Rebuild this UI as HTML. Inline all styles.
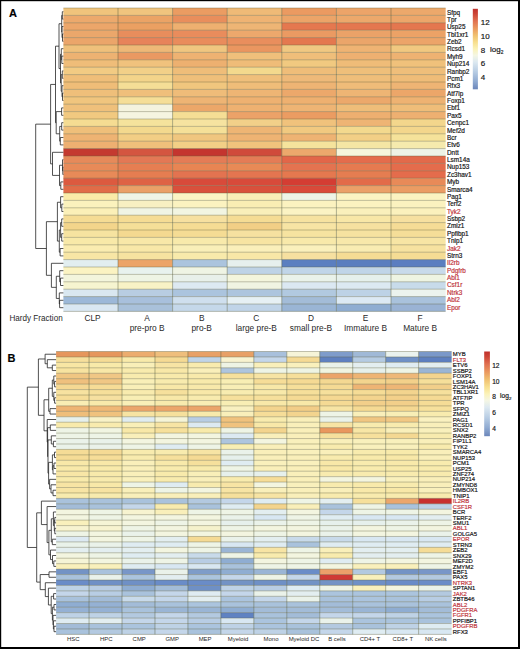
<!DOCTYPE html><html><head><meta charset="utf-8"><style>
html,body{margin:0;padding:0;background:#fff;}
body{width:520px;height:649px;overflow:hidden;position:relative;}
svg{position:absolute;left:0;top:0;}
text{font-family:"Liberation Sans",sans-serif;fill:#151515;stroke:#151515;stroke-width:0.18px;}
.gh{stroke:rgba(95,95,60,0.42);stroke-width:0.9;}
.gv{stroke:rgba(85,90,60,0.5);stroke-width:0.9;}
text.ns{stroke:none;fill:#2a2a2a;}
.d{stroke:#262626;stroke-width:0.8;fill:none;}
</style></head><body>
<svg width="520" height="649" viewBox="0 0 520 649">
<defs>
<linearGradient id="cbA" x1="0" y1="0" x2="0" y2="1">
<stop offset="0" stop-color="#c0302c"/>
<stop offset="0.06" stop-color="#cc4436"/>
<stop offset="0.15" stop-color="#e07050"/>
<stop offset="0.25" stop-color="#eb9c60"/>
<stop offset="0.33" stop-color="#f0c070"/>
<stop offset="0.42" stop-color="#f8e090"/>
<stop offset="0.5" stop-color="#fbf2b8"/>
<stop offset="0.58" stop-color="#f4f6e4"/>
<stop offset="0.66" stop-color="#dde9f1"/>
<stop offset="0.78" stop-color="#b8cde4"/>
<stop offset="0.9" stop-color="#90abd2"/>
<stop offset="1" stop-color="#6b86ba"/>
</linearGradient>
<linearGradient id="cbB" x1="0" y1="0" x2="0" y2="1">
<stop offset="0" stop-color="#c0302c"/>
<stop offset="0.06" stop-color="#cc4436"/>
<stop offset="0.15" stop-color="#e07050"/>
<stop offset="0.25" stop-color="#eb9c60"/>
<stop offset="0.33" stop-color="#f0c070"/>
<stop offset="0.42" stop-color="#f8e090"/>
<stop offset="0.5" stop-color="#fbf2b8"/>
<stop offset="0.58" stop-color="#f4f6e4"/>
<stop offset="0.66" stop-color="#dde9f1"/>
<stop offset="0.78" stop-color="#b8cde4"/>
<stop offset="0.9" stop-color="#90abd2"/>
<stop offset="1" stop-color="#6b86ba"/>
</linearGradient>
</defs>
<rect x="63.4" y="8" width="54.65" height="7.45" fill="#f0c47c"/>
<rect x="118" y="8" width="54.65" height="7.45" fill="#f0c47e"/>
<rect x="172.6" y="8" width="54.65" height="7.45" fill="#eb9c62"/>
<rect x="227.2" y="8" width="54.65" height="7.45" fill="#efba77"/>
<rect x="281.8" y="8" width="54.65" height="7.45" fill="#eb9a61"/>
<rect x="336.4" y="8" width="54.65" height="7.45" fill="#eca469"/>
<rect x="391" y="8" width="54.65" height="7.45" fill="#eca86b"/>
<rect x="63.4" y="15.4" width="54.65" height="7.45" fill="#eca96c"/>
<rect x="118" y="15.4" width="54.65" height="7.45" fill="#eba365"/>
<rect x="172.6" y="15.4" width="54.65" height="7.45" fill="#e98e5c"/>
<rect x="227.2" y="15.4" width="54.65" height="7.45" fill="#efb373"/>
<rect x="281.8" y="15.4" width="54.65" height="7.45" fill="#eca468"/>
<rect x="336.4" y="15.4" width="54.65" height="7.45" fill="#eca86b"/>
<rect x="391" y="15.4" width="54.65" height="7.45" fill="#eca66a"/>
<rect x="63.4" y="22.8" width="54.65" height="7.45" fill="#eca66a"/>
<rect x="118" y="22.8" width="54.65" height="7.45" fill="#eba062"/>
<rect x="172.6" y="22.8" width="54.65" height="7.45" fill="#eeb070"/>
<rect x="227.2" y="22.8" width="54.65" height="7.45" fill="#eeb575"/>
<rect x="281.8" y="22.8" width="54.65" height="7.45" fill="#e5784f"/>
<rect x="336.4" y="22.8" width="54.65" height="7.45" fill="#e4774f"/>
<rect x="391" y="22.8" width="54.65" height="7.45" fill="#e4774f"/>
<rect x="63.4" y="30.2" width="54.65" height="7.45" fill="#eba76b"/>
<rect x="118" y="30.2" width="54.65" height="7.45" fill="#e88d5c"/>
<rect x="172.6" y="30.2" width="54.65" height="7.45" fill="#e98c5c"/>
<rect x="227.2" y="30.2" width="54.65" height="7.45" fill="#eda86c"/>
<rect x="281.8" y="30.2" width="54.65" height="7.45" fill="#eb9a62"/>
<rect x="336.4" y="30.2" width="54.65" height="7.45" fill="#eba268"/>
<rect x="391" y="30.2" width="54.65" height="7.45" fill="#eca266"/>
<rect x="63.4" y="37.6" width="54.65" height="7.45" fill="#eba56a"/>
<rect x="118" y="37.6" width="54.65" height="7.45" fill="#e7835a"/>
<rect x="172.6" y="37.6" width="54.65" height="7.45" fill="#e98c5c"/>
<rect x="227.2" y="37.6" width="54.65" height="7.45" fill="#e98e5d"/>
<rect x="281.8" y="37.6" width="54.65" height="7.45" fill="#e4784f"/>
<rect x="336.4" y="37.6" width="54.65" height="7.45" fill="#eba56a"/>
<rect x="391" y="37.6" width="54.65" height="7.45" fill="#eca469"/>
<rect x="63.4" y="45" width="54.65" height="7.45" fill="#efc07b"/>
<rect x="118" y="45" width="54.65" height="7.45" fill="#eeb877"/>
<rect x="172.6" y="45" width="54.65" height="7.45" fill="#f0c680"/>
<rect x="227.2" y="45" width="54.65" height="7.45" fill="#ea9660"/>
<rect x="281.8" y="45" width="54.65" height="7.45" fill="#f0c882"/>
<rect x="336.4" y="45" width="54.65" height="7.45" fill="#efb373"/>
<rect x="391" y="45" width="54.65" height="7.45" fill="#f1c880"/>
<rect x="63.4" y="52.4" width="54.65" height="7.45" fill="#edb272"/>
<rect x="118" y="52.4" width="54.65" height="7.45" fill="#ea9962"/>
<rect x="172.6" y="52.4" width="54.65" height="7.45" fill="#eeb272"/>
<rect x="227.2" y="52.4" width="54.65" height="7.45" fill="#f0c07b"/>
<rect x="281.8" y="52.4" width="54.65" height="7.45" fill="#efbe7a"/>
<rect x="336.4" y="52.4" width="54.65" height="7.45" fill="#eeb071"/>
<rect x="391" y="52.4" width="54.65" height="7.45" fill="#eeb272"/>
<rect x="63.4" y="59.8" width="54.65" height="7.45" fill="#efbd79"/>
<rect x="118" y="59.8" width="54.65" height="7.45" fill="#f0c27d"/>
<rect x="172.6" y="59.8" width="54.65" height="7.45" fill="#edb070"/>
<rect x="227.2" y="59.8" width="54.65" height="7.45" fill="#efbc78"/>
<rect x="281.8" y="59.8" width="54.65" height="7.45" fill="#f1c980"/>
<rect x="336.4" y="59.8" width="54.65" height="7.45" fill="#efbc78"/>
<rect x="391" y="59.8" width="54.65" height="7.45" fill="#f0c17b"/>
<rect x="63.4" y="67.2" width="54.65" height="7.45" fill="#f2cb83"/>
<rect x="118" y="67.2" width="54.65" height="7.45" fill="#f2d088"/>
<rect x="172.6" y="67.2" width="54.65" height="7.45" fill="#efbd79"/>
<rect x="227.2" y="67.2" width="54.65" height="7.45" fill="#f3d98d"/>
<rect x="281.8" y="67.2" width="54.65" height="7.45" fill="#efbd79"/>
<rect x="336.4" y="67.2" width="54.65" height="7.45" fill="#efbf7a"/>
<rect x="391" y="67.2" width="54.65" height="7.45" fill="#efbe7a"/>
<rect x="63.4" y="74.6" width="54.65" height="7.45" fill="#efbe79"/>
<rect x="118" y="74.6" width="54.65" height="7.45" fill="#f3d48a"/>
<rect x="172.6" y="74.6" width="54.65" height="7.45" fill="#efbf7a"/>
<rect x="227.2" y="74.6" width="54.65" height="7.45" fill="#efbf7b"/>
<rect x="281.8" y="74.6" width="54.65" height="7.45" fill="#eeb979"/>
<rect x="336.4" y="74.6" width="54.65" height="7.45" fill="#efbe7a"/>
<rect x="391" y="74.6" width="54.65" height="7.45" fill="#efbc78"/>
<rect x="63.4" y="82" width="54.65" height="7.45" fill="#efbd78"/>
<rect x="118" y="82" width="54.65" height="7.45" fill="#f5de96"/>
<rect x="172.6" y="82" width="54.65" height="7.45" fill="#f0c67e"/>
<rect x="227.2" y="82" width="54.65" height="7.45" fill="#efbd79"/>
<rect x="281.8" y="82" width="54.65" height="7.45" fill="#eeb474"/>
<rect x="336.4" y="82" width="54.65" height="7.45" fill="#efbc79"/>
<rect x="391" y="82" width="54.65" height="7.45" fill="#eeb474"/>
<rect x="63.4" y="89.4" width="54.65" height="7.45" fill="#efbf7a"/>
<rect x="118" y="89.4" width="54.65" height="7.45" fill="#efbf7b"/>
<rect x="172.6" y="89.4" width="54.65" height="7.45" fill="#efbc79"/>
<rect x="227.2" y="89.4" width="54.65" height="7.45" fill="#eeb574"/>
<rect x="281.8" y="89.4" width="54.65" height="7.45" fill="#eca86b"/>
<rect x="336.4" y="89.4" width="54.65" height="7.45" fill="#eeb574"/>
<rect x="391" y="89.4" width="54.65" height="7.45" fill="#eca669"/>
<rect x="63.4" y="96.8" width="54.65" height="7.45" fill="#f0c57e"/>
<rect x="118" y="96.8" width="54.65" height="7.45" fill="#f5de97"/>
<rect x="172.6" y="96.8" width="54.65" height="7.45" fill="#eeb474"/>
<rect x="227.2" y="96.8" width="54.65" height="7.45" fill="#eeb171"/>
<rect x="281.8" y="96.8" width="54.65" height="7.45" fill="#eeb070"/>
<rect x="336.4" y="96.8" width="54.65" height="7.45" fill="#eca86b"/>
<rect x="391" y="96.8" width="54.65" height="7.45" fill="#eeb272"/>
<rect x="63.4" y="104.2" width="54.65" height="7.45" fill="#efc07b"/>
<rect x="118" y="104.2" width="54.65" height="7.45" fill="#f4f3de"/>
<rect x="172.6" y="104.2" width="54.65" height="7.45" fill="#eca769"/>
<rect x="227.2" y="104.2" width="54.65" height="7.45" fill="#eeb171"/>
<rect x="281.8" y="104.2" width="54.65" height="7.45" fill="#eeb474"/>
<rect x="336.4" y="104.2" width="54.65" height="7.45" fill="#efbd79"/>
<rect x="391" y="104.2" width="54.65" height="7.45" fill="#efbd79"/>
<rect x="63.4" y="111.6" width="54.65" height="7.45" fill="#f1c980"/>
<rect x="118" y="111.6" width="54.65" height="7.45" fill="#f5f4e0"/>
<rect x="172.6" y="111.6" width="54.65" height="7.45" fill="#f5de95"/>
<rect x="227.2" y="111.6" width="54.65" height="7.45" fill="#eca268"/>
<rect x="281.8" y="111.6" width="54.65" height="7.45" fill="#eb9c62"/>
<rect x="336.4" y="111.6" width="54.65" height="7.45" fill="#eeaf70"/>
<rect x="391" y="111.6" width="54.65" height="7.45" fill="#eeb071"/>
<rect x="63.4" y="119" width="54.65" height="7.45" fill="#f5dc92"/>
<rect x="118" y="119" width="54.65" height="7.45" fill="#f5e39c"/>
<rect x="172.6" y="119" width="54.65" height="7.45" fill="#f6e3a0"/>
<rect x="227.2" y="119" width="54.65" height="7.45" fill="#f2d089"/>
<rect x="281.8" y="119" width="54.65" height="7.45" fill="#f0c27c"/>
<rect x="336.4" y="119" width="54.65" height="7.45" fill="#eeb474"/>
<rect x="391" y="119" width="54.65" height="7.45" fill="#f3d68c"/>
<rect x="63.4" y="126.4" width="54.65" height="7.45" fill="#efbf7a"/>
<rect x="118" y="126.4" width="54.65" height="7.45" fill="#f3d98e"/>
<rect x="172.6" y="126.4" width="54.65" height="7.45" fill="#f5e098"/>
<rect x="227.2" y="126.4" width="54.65" height="7.45" fill="#eeb574"/>
<rect x="281.8" y="126.4" width="54.65" height="7.45" fill="#f1c980"/>
<rect x="336.4" y="126.4" width="54.65" height="7.45" fill="#f3d98e"/>
<rect x="391" y="126.4" width="54.65" height="7.45" fill="#f3d68c"/>
<rect x="63.4" y="133.8" width="54.65" height="7.45" fill="#eeb373"/>
<rect x="118" y="133.8" width="54.65" height="7.45" fill="#f2ce85"/>
<rect x="172.6" y="133.8" width="54.65" height="7.45" fill="#f0c67f"/>
<rect x="227.2" y="133.8" width="54.65" height="7.45" fill="#eeb373"/>
<rect x="281.8" y="133.8" width="54.65" height="7.45" fill="#eeb373"/>
<rect x="336.4" y="133.8" width="54.65" height="7.45" fill="#f2cf86"/>
<rect x="391" y="133.8" width="54.65" height="7.45" fill="#f5e29a"/>
<rect x="63.4" y="141.2" width="54.65" height="7.45" fill="#eeb071"/>
<rect x="118" y="141.2" width="54.65" height="7.45" fill="#efc07b"/>
<rect x="172.6" y="141.2" width="54.65" height="7.45" fill="#f2cf86"/>
<rect x="227.2" y="141.2" width="54.65" height="7.45" fill="#f0c37c"/>
<rect x="281.8" y="141.2" width="54.65" height="7.45" fill="#f5e39c"/>
<rect x="336.4" y="141.2" width="54.65" height="7.45" fill="#f5e6a4"/>
<rect x="391" y="141.2" width="54.65" height="7.45" fill="#f5eaad"/>
<rect x="63.4" y="148.6" width="54.65" height="7.45" fill="#c43a30"/>
<rect x="118" y="148.6" width="54.65" height="7.45" fill="#d45540"/>
<rect x="172.6" y="148.6" width="54.65" height="7.45" fill="#c4352f"/>
<rect x="227.2" y="148.6" width="54.65" height="7.45" fill="#d04a3b"/>
<rect x="281.8" y="148.6" width="54.65" height="7.45" fill="#eca86c"/>
<rect x="336.4" y="148.6" width="54.65" height="7.45" fill="#f6f5dc"/>
<rect x="391" y="148.6" width="54.65" height="7.45" fill="#eef3e6"/>
<rect x="63.4" y="156" width="54.65" height="7.45" fill="#e68a5a"/>
<rect x="118" y="156" width="54.65" height="7.45" fill="#e37855"/>
<rect x="172.6" y="156" width="54.65" height="7.45" fill="#e47c56"/>
<rect x="227.2" y="156" width="54.65" height="7.45" fill="#e47c56"/>
<rect x="281.8" y="156" width="54.65" height="7.45" fill="#e26649"/>
<rect x="336.4" y="156" width="54.65" height="7.45" fill="#e46c4c"/>
<rect x="391" y="156" width="54.65" height="7.45" fill="#e26a4a"/>
<rect x="63.4" y="163.4" width="54.65" height="7.45" fill="#e88a58"/>
<rect x="118" y="163.4" width="54.65" height="7.45" fill="#e67e52"/>
<rect x="172.6" y="163.4" width="54.65" height="7.45" fill="#e88553"/>
<rect x="227.2" y="163.4" width="54.65" height="7.45" fill="#e88a56"/>
<rect x="281.8" y="163.4" width="54.65" height="7.45" fill="#e47350"/>
<rect x="336.4" y="163.4" width="54.65" height="7.45" fill="#e67a50"/>
<rect x="391" y="163.4" width="54.65" height="7.45" fill="#e46c4c"/>
<rect x="63.4" y="170.8" width="54.65" height="7.45" fill="#e88a58"/>
<rect x="118" y="170.8" width="54.65" height="7.45" fill="#e57d51"/>
<rect x="172.6" y="170.8" width="54.65" height="7.45" fill="#e37350"/>
<rect x="227.2" y="170.8" width="54.65" height="7.45" fill="#e47550"/>
<rect x="281.8" y="170.8" width="54.65" height="7.45" fill="#e5784f"/>
<rect x="336.4" y="170.8" width="54.65" height="7.45" fill="#e57d51"/>
<rect x="391" y="170.8" width="54.65" height="7.45" fill="#e46c4c"/>
<rect x="63.4" y="178.2" width="54.65" height="7.45" fill="#dc5a3f"/>
<rect x="118" y="178.2" width="54.65" height="7.45" fill="#de6245"/>
<rect x="172.6" y="178.2" width="54.65" height="7.45" fill="#d84a3a"/>
<rect x="227.2" y="178.2" width="54.65" height="7.45" fill="#d84a3a"/>
<rect x="281.8" y="178.2" width="54.65" height="7.45" fill="#d43d33"/>
<rect x="336.4" y="178.2" width="54.65" height="7.45" fill="#e26b49"/>
<rect x="391" y="178.2" width="54.65" height="7.45" fill="#e88a58"/>
<rect x="63.4" y="185.6" width="54.65" height="7.45" fill="#e16c48"/>
<rect x="118" y="185.6" width="54.65" height="7.45" fill="#eaa068"/>
<rect x="172.6" y="185.6" width="54.65" height="7.45" fill="#d9503c"/>
<rect x="227.2" y="185.6" width="54.65" height="7.45" fill="#d9503c"/>
<rect x="281.8" y="185.6" width="54.65" height="7.45" fill="#d94a3a"/>
<rect x="336.4" y="185.6" width="54.65" height="7.45" fill="#eba068"/>
<rect x="391" y="185.6" width="54.65" height="7.45" fill="#eb9c63"/>
<rect x="63.4" y="193" width="54.65" height="7.45" fill="#faeba8"/>
<rect x="118" y="193" width="54.65" height="7.45" fill="#eff5e6"/>
<rect x="172.6" y="193" width="54.65" height="7.45" fill="#fbf4c4"/>
<rect x="227.2" y="193" width="54.65" height="7.45" fill="#f9eeb8"/>
<rect x="281.8" y="193" width="54.65" height="7.45" fill="#eef4e6"/>
<rect x="336.4" y="193" width="54.65" height="7.45" fill="#fbf3c2"/>
<rect x="391" y="193" width="54.65" height="7.45" fill="#fbf3c0"/>
<rect x="63.4" y="200.4" width="54.65" height="7.45" fill="#fbf2bd"/>
<rect x="118" y="200.4" width="54.65" height="7.45" fill="#f8f0c2"/>
<rect x="172.6" y="200.4" width="54.65" height="7.45" fill="#fbf2c0"/>
<rect x="227.2" y="200.4" width="54.65" height="7.45" fill="#f9edb3"/>
<rect x="281.8" y="200.4" width="54.65" height="7.45" fill="#fbf2c0"/>
<rect x="336.4" y="200.4" width="54.65" height="7.45" fill="#fbf2c0"/>
<rect x="391" y="200.4" width="54.65" height="7.45" fill="#fbf2bf"/>
<rect x="63.4" y="207.8" width="54.65" height="7.45" fill="#fbf0b8"/>
<rect x="118" y="207.8" width="54.65" height="7.45" fill="#f0f4e4"/>
<rect x="172.6" y="207.8" width="54.65" height="7.45" fill="#f2f5e2"/>
<rect x="227.2" y="207.8" width="54.65" height="7.45" fill="#f9efba"/>
<rect x="281.8" y="207.8" width="54.65" height="7.45" fill="#fbf3c4"/>
<rect x="336.4" y="207.8" width="54.65" height="7.45" fill="#faf0bc"/>
<rect x="391" y="207.8" width="54.65" height="7.45" fill="#fbf1bd"/>
<rect x="63.4" y="215.2" width="54.65" height="7.45" fill="#f5dc94"/>
<rect x="118" y="215.2" width="54.65" height="7.45" fill="#f5dc94"/>
<rect x="172.6" y="215.2" width="54.65" height="7.45" fill="#f6e0a0"/>
<rect x="227.2" y="215.2" width="54.65" height="7.45" fill="#f5dc94"/>
<rect x="281.8" y="215.2" width="54.65" height="7.45" fill="#f6e2a0"/>
<rect x="336.4" y="215.2" width="54.65" height="7.45" fill="#f8e7a7"/>
<rect x="391" y="215.2" width="54.65" height="7.45" fill="#f6e0a0"/>
<rect x="63.4" y="222.6" width="54.65" height="7.45" fill="#f3d58b"/>
<rect x="118" y="222.6" width="54.65" height="7.45" fill="#f5df98"/>
<rect x="172.6" y="222.6" width="54.65" height="7.45" fill="#f5dc94"/>
<rect x="227.2" y="222.6" width="54.65" height="7.45" fill="#f2cf86"/>
<rect x="281.8" y="222.6" width="54.65" height="7.45" fill="#f7e4a4"/>
<rect x="336.4" y="222.6" width="54.65" height="7.45" fill="#f6e1a0"/>
<rect x="391" y="222.6" width="54.65" height="7.45" fill="#f5dc96"/>
<rect x="63.4" y="230" width="54.65" height="7.45" fill="#f6e3a0"/>
<rect x="118" y="230" width="54.65" height="7.45" fill="#f4d990"/>
<rect x="172.6" y="230" width="54.65" height="7.45" fill="#f5dc94"/>
<rect x="227.2" y="230" width="54.65" height="7.45" fill="#f6e1a0"/>
<rect x="281.8" y="230" width="54.65" height="7.45" fill="#f6e3a0"/>
<rect x="336.4" y="230" width="54.65" height="7.45" fill="#f6e2a0"/>
<rect x="391" y="230" width="54.65" height="7.45" fill="#f5de98"/>
<rect x="63.4" y="237.4" width="54.65" height="7.45" fill="#f8e9a8"/>
<rect x="118" y="237.4" width="54.65" height="7.45" fill="#f8e8a8"/>
<rect x="172.6" y="237.4" width="54.65" height="7.45" fill="#f8eaab"/>
<rect x="227.2" y="237.4" width="54.65" height="7.45" fill="#f7e4a2"/>
<rect x="281.8" y="237.4" width="54.65" height="7.45" fill="#f8e9aa"/>
<rect x="336.4" y="237.4" width="54.65" height="7.45" fill="#f8e8aa"/>
<rect x="391" y="237.4" width="54.65" height="7.45" fill="#f7e5a4"/>
<rect x="63.4" y="244.8" width="54.65" height="7.45" fill="#faecb0"/>
<rect x="118" y="244.8" width="54.65" height="7.45" fill="#f8e8a8"/>
<rect x="172.6" y="244.8" width="54.65" height="7.45" fill="#f9efb8"/>
<rect x="227.2" y="244.8" width="54.65" height="7.45" fill="#faefba"/>
<rect x="281.8" y="244.8" width="54.65" height="7.45" fill="#faf0bc"/>
<rect x="336.4" y="244.8" width="54.65" height="7.45" fill="#f9ecb2"/>
<rect x="391" y="244.8" width="54.65" height="7.45" fill="#f6e2a0"/>
<rect x="63.4" y="252.2" width="54.65" height="7.45" fill="#f8e6a5"/>
<rect x="118" y="252.2" width="54.65" height="7.45" fill="#f6e3a0"/>
<rect x="172.6" y="252.2" width="54.65" height="7.45" fill="#f8eaab"/>
<rect x="227.2" y="252.2" width="54.65" height="7.45" fill="#f8e7a7"/>
<rect x="281.8" y="252.2" width="54.65" height="7.45" fill="#f6e0a0"/>
<rect x="336.4" y="252.2" width="54.65" height="7.45" fill="#f5dc94"/>
<rect x="391" y="252.2" width="54.65" height="7.45" fill="#f5dc94"/>
<rect x="63.4" y="259.6" width="54.65" height="7.45" fill="#e2eef0"/>
<rect x="118" y="259.6" width="54.65" height="7.45" fill="#eca468"/>
<rect x="172.6" y="259.6" width="54.65" height="7.45" fill="#abc4de"/>
<rect x="227.2" y="259.6" width="54.65" height="7.45" fill="#e6f0ee"/>
<rect x="281.8" y="259.6" width="54.65" height="7.45" fill="#5b7fc0"/>
<rect x="336.4" y="259.6" width="54.65" height="7.45" fill="#5a7ebf"/>
<rect x="391" y="259.6" width="54.65" height="7.45" fill="#5b7ec0"/>
<rect x="63.4" y="267" width="54.65" height="7.45" fill="#fbf3c2"/>
<rect x="118" y="267" width="54.65" height="7.45" fill="#e8f2ee"/>
<rect x="172.6" y="267" width="54.65" height="7.45" fill="#eff4e4"/>
<rect x="227.2" y="267" width="54.65" height="7.45" fill="#bed3e6"/>
<rect x="281.8" y="267" width="54.65" height="7.45" fill="#c0d5e8"/>
<rect x="336.4" y="267" width="54.65" height="7.45" fill="#c0d5e8"/>
<rect x="391" y="267" width="54.65" height="7.45" fill="#c8daea"/>
<rect x="63.4" y="274.4" width="54.65" height="7.45" fill="#f3f5dc"/>
<rect x="118" y="274.4" width="54.65" height="7.45" fill="#eef4e4"/>
<rect x="172.6" y="274.4" width="54.65" height="7.45" fill="#e8f0ea"/>
<rect x="227.2" y="274.4" width="54.65" height="7.45" fill="#f3f5dc"/>
<rect x="281.8" y="274.4" width="54.65" height="7.45" fill="#e9f2ea"/>
<rect x="336.4" y="274.4" width="54.65" height="7.45" fill="#e5f0ec"/>
<rect x="391" y="274.4" width="54.65" height="7.45" fill="#eef4e2"/>
<rect x="63.4" y="281.8" width="54.65" height="7.45" fill="#f6f4d0"/>
<rect x="118" y="281.8" width="54.65" height="7.45" fill="#f8f2c6"/>
<rect x="172.6" y="281.8" width="54.65" height="7.45" fill="#dde9f2"/>
<rect x="227.2" y="281.8" width="54.65" height="7.45" fill="#f0f4e2"/>
<rect x="281.8" y="281.8" width="54.65" height="7.45" fill="#dbe8f2"/>
<rect x="336.4" y="281.8" width="54.65" height="7.45" fill="#dce9f2"/>
<rect x="391" y="281.8" width="54.65" height="7.45" fill="#c8dbea"/>
<rect x="63.4" y="289.2" width="54.65" height="7.45" fill="#d9e7f0"/>
<rect x="118" y="289.2" width="54.65" height="7.45" fill="#b8cde2"/>
<rect x="172.6" y="289.2" width="54.65" height="7.45" fill="#abc4de"/>
<rect x="227.2" y="289.2" width="54.65" height="7.45" fill="#adc5de"/>
<rect x="281.8" y="289.2" width="54.65" height="7.45" fill="#b1c9e0"/>
<rect x="336.4" y="289.2" width="54.65" height="7.45" fill="#bdd2e6"/>
<rect x="391" y="289.2" width="54.65" height="7.45" fill="#ebf3ee"/>
<rect x="63.4" y="296.6" width="54.65" height="7.45" fill="#9cb8d8"/>
<rect x="118" y="296.6" width="54.65" height="7.45" fill="#a8c0dc"/>
<rect x="172.6" y="296.6" width="54.65" height="7.45" fill="#cfdfee"/>
<rect x="227.2" y="296.6" width="54.65" height="7.45" fill="#e6f0f4"/>
<rect x="281.8" y="296.6" width="54.65" height="7.45" fill="#a3bcd8"/>
<rect x="336.4" y="296.6" width="54.65" height="7.45" fill="#dce9f4"/>
<rect x="391" y="296.6" width="54.65" height="7.45" fill="#a9c2dc"/>
<rect x="63.4" y="304" width="54.65" height="7.45" fill="#d9e7f2"/>
<rect x="118" y="304" width="54.65" height="7.45" fill="#a9c1da"/>
<rect x="172.6" y="304" width="54.65" height="7.45" fill="#c5d8ea"/>
<rect x="227.2" y="304" width="54.65" height="7.45" fill="#c0d4e8"/>
<rect x="281.8" y="304" width="54.65" height="7.45" fill="#9ab5d5"/>
<rect x="336.4" y="304" width="54.65" height="7.45" fill="#8fadd2"/>
<rect x="391" y="304" width="54.65" height="7.45" fill="#9ab3d4"/>
<line x1="63.4" y1="8" x2="445.6" y2="8" class="gh"/>
<line x1="63.4" y1="15.4" x2="445.6" y2="15.4" class="gh"/>
<line x1="63.4" y1="22.8" x2="445.6" y2="22.8" class="gh"/>
<line x1="63.4" y1="30.2" x2="445.6" y2="30.2" class="gh"/>
<line x1="63.4" y1="37.6" x2="445.6" y2="37.6" class="gh"/>
<line x1="63.4" y1="45" x2="445.6" y2="45" class="gh"/>
<line x1="63.4" y1="52.4" x2="445.6" y2="52.4" class="gh"/>
<line x1="63.4" y1="59.8" x2="445.6" y2="59.8" class="gh"/>
<line x1="63.4" y1="67.2" x2="445.6" y2="67.2" class="gh"/>
<line x1="63.4" y1="74.6" x2="445.6" y2="74.6" class="gh"/>
<line x1="63.4" y1="82" x2="445.6" y2="82" class="gh"/>
<line x1="63.4" y1="89.4" x2="445.6" y2="89.4" class="gh"/>
<line x1="63.4" y1="96.8" x2="445.6" y2="96.8" class="gh"/>
<line x1="63.4" y1="104.2" x2="445.6" y2="104.2" class="gh"/>
<line x1="63.4" y1="111.6" x2="445.6" y2="111.6" class="gh"/>
<line x1="63.4" y1="119" x2="445.6" y2="119" class="gh"/>
<line x1="63.4" y1="126.4" x2="445.6" y2="126.4" class="gh"/>
<line x1="63.4" y1="133.8" x2="445.6" y2="133.8" class="gh"/>
<line x1="63.4" y1="141.2" x2="445.6" y2="141.2" class="gh"/>
<line x1="63.4" y1="148.6" x2="445.6" y2="148.6" class="gh"/>
<line x1="63.4" y1="156" x2="445.6" y2="156" class="gh"/>
<line x1="63.4" y1="163.4" x2="445.6" y2="163.4" class="gh"/>
<line x1="63.4" y1="170.8" x2="445.6" y2="170.8" class="gh"/>
<line x1="63.4" y1="178.2" x2="445.6" y2="178.2" class="gh"/>
<line x1="63.4" y1="185.6" x2="445.6" y2="185.6" class="gh"/>
<line x1="63.4" y1="193" x2="445.6" y2="193" class="gh"/>
<line x1="63.4" y1="200.4" x2="445.6" y2="200.4" class="gh"/>
<line x1="63.4" y1="207.8" x2="445.6" y2="207.8" class="gh"/>
<line x1="63.4" y1="215.2" x2="445.6" y2="215.2" class="gh"/>
<line x1="63.4" y1="222.6" x2="445.6" y2="222.6" class="gh"/>
<line x1="63.4" y1="230" x2="445.6" y2="230" class="gh"/>
<line x1="63.4" y1="237.4" x2="445.6" y2="237.4" class="gh"/>
<line x1="63.4" y1="244.8" x2="445.6" y2="244.8" class="gh"/>
<line x1="63.4" y1="252.2" x2="445.6" y2="252.2" class="gh"/>
<line x1="63.4" y1="259.6" x2="445.6" y2="259.6" class="gh"/>
<line x1="63.4" y1="267" x2="445.6" y2="267" class="gh"/>
<line x1="63.4" y1="274.4" x2="445.6" y2="274.4" class="gh"/>
<line x1="63.4" y1="281.8" x2="445.6" y2="281.8" class="gh"/>
<line x1="63.4" y1="289.2" x2="445.6" y2="289.2" class="gh"/>
<line x1="63.4" y1="296.6" x2="445.6" y2="296.6" class="gh"/>
<line x1="63.4" y1="304" x2="445.6" y2="304" class="gh"/>
<line x1="63.4" y1="311.4" x2="445.6" y2="311.4" class="gh"/>
<line x1="118" y1="8" x2="118" y2="311.4" class="gv"/>
<line x1="172.6" y1="8" x2="172.6" y2="311.4" class="gv"/>
<line x1="227.2" y1="8" x2="227.2" y2="311.4" class="gv"/>
<line x1="281.8" y1="8" x2="281.8" y2="311.4" class="gv"/>
<line x1="336.4" y1="8" x2="336.4" y2="311.4" class="gv"/>
<line x1="391" y1="8" x2="391" y2="311.4" class="gv"/>
<rect x="56.1" y="351.5" width="33.01" height="5.49" fill="#e6965c"/>
<rect x="89.06" y="351.5" width="33.01" height="5.49" fill="#e6965c"/>
<rect x="122.02" y="351.5" width="33.01" height="5.49" fill="#ecac6e"/>
<rect x="154.97" y="351.5" width="33.01" height="5.49" fill="#efbe7c"/>
<rect x="187.93" y="351.5" width="33.01" height="5.49" fill="#e8a066"/>
<rect x="220.89" y="351.5" width="33.01" height="5.49" fill="#e8a066"/>
<rect x="253.85" y="351.5" width="33.01" height="5.49" fill="#a8c0dc"/>
<rect x="286.81" y="351.5" width="33.01" height="5.49" fill="#f6f4d8"/>
<rect x="319.77" y="351.5" width="33.01" height="5.49" fill="#7f9ccb"/>
<rect x="352.73" y="351.5" width="33.01" height="5.49" fill="#a0b9d7"/>
<rect x="385.68" y="351.5" width="33.01" height="5.49" fill="#eaf2ee"/>
<rect x="418.64" y="351.5" width="33.01" height="5.49" fill="#7a98c9"/>
<rect x="56.1" y="356.94" width="33.01" height="5.49" fill="#f6df9c"/>
<rect x="89.06" y="356.94" width="33.01" height="5.49" fill="#f5dc96"/>
<rect x="122.02" y="356.94" width="33.01" height="5.49" fill="#f8eaab"/>
<rect x="154.97" y="356.94" width="33.01" height="5.49" fill="#f5da94"/>
<rect x="187.93" y="356.94" width="33.01" height="5.49" fill="#c0d4e8"/>
<rect x="220.89" y="356.94" width="33.01" height="5.49" fill="#f8f3d0"/>
<rect x="253.85" y="356.94" width="33.01" height="5.49" fill="#c4d6ea"/>
<rect x="286.81" y="356.94" width="33.01" height="5.49" fill="#f5da94"/>
<rect x="319.77" y="356.94" width="33.01" height="5.49" fill="#5f80c0"/>
<rect x="352.73" y="356.94" width="33.01" height="5.49" fill="#b5cbe2"/>
<rect x="385.68" y="356.94" width="33.01" height="5.49" fill="#6f90c6"/>
<rect x="418.64" y="356.94" width="33.01" height="5.49" fill="#5d7fc0"/>
<rect x="56.1" y="362.38" width="33.01" height="5.49" fill="#f8e6a4"/>
<rect x="89.06" y="362.38" width="33.01" height="5.49" fill="#f8eaa9"/>
<rect x="122.02" y="362.38" width="33.01" height="5.49" fill="#f9efb8"/>
<rect x="154.97" y="362.38" width="33.01" height="5.49" fill="#f7e4a4"/>
<rect x="187.93" y="362.38" width="33.01" height="5.49" fill="#f8ebae"/>
<rect x="220.89" y="362.38" width="33.01" height="5.49" fill="#eef4e4"/>
<rect x="253.85" y="362.38" width="33.01" height="5.49" fill="#f9efba"/>
<rect x="286.81" y="362.38" width="33.01" height="5.49" fill="#f9f0bc"/>
<rect x="319.77" y="362.38" width="33.01" height="5.49" fill="#eaf2ea"/>
<rect x="352.73" y="362.38" width="33.01" height="5.49" fill="#e3eef0"/>
<rect x="385.68" y="362.38" width="33.01" height="5.49" fill="#dfecf2"/>
<rect x="418.64" y="362.38" width="33.01" height="5.49" fill="#e3eef0"/>
<rect x="56.1" y="367.82" width="33.01" height="5.49" fill="#f7e3a0"/>
<rect x="89.06" y="367.82" width="33.01" height="5.49" fill="#f8e8a8"/>
<rect x="122.02" y="367.82" width="33.01" height="5.49" fill="#f8ebae"/>
<rect x="154.97" y="367.82" width="33.01" height="5.49" fill="#f8e8a8"/>
<rect x="187.93" y="367.82" width="33.01" height="5.49" fill="#f9efba"/>
<rect x="220.89" y="367.82" width="33.01" height="5.49" fill="#aec5de"/>
<rect x="253.85" y="367.82" width="33.01" height="5.49" fill="#eef4e6"/>
<rect x="286.81" y="367.82" width="33.01" height="5.49" fill="#eef4e4"/>
<rect x="319.77" y="367.82" width="33.01" height="5.49" fill="#f0f4e2"/>
<rect x="352.73" y="367.82" width="33.01" height="5.49" fill="#e6f0ec"/>
<rect x="385.68" y="367.82" width="33.01" height="5.49" fill="#eef4e6"/>
<rect x="418.64" y="367.82" width="33.01" height="5.49" fill="#9ab5d5"/>
<rect x="56.1" y="373.26" width="33.01" height="5.49" fill="#f0c682"/>
<rect x="89.06" y="373.26" width="33.01" height="5.49" fill="#f0c785"/>
<rect x="122.02" y="373.26" width="33.01" height="5.49" fill="#f8ebae"/>
<rect x="154.97" y="373.26" width="33.01" height="5.49" fill="#f8eaab"/>
<rect x="187.93" y="373.26" width="33.01" height="5.49" fill="#f8eaab"/>
<rect x="220.89" y="373.26" width="33.01" height="5.49" fill="#f6e09c"/>
<rect x="253.85" y="373.26" width="33.01" height="5.49" fill="#f7e4a4"/>
<rect x="286.81" y="373.26" width="33.01" height="5.49" fill="#f6df9a"/>
<rect x="319.77" y="373.26" width="33.01" height="5.49" fill="#eba469"/>
<rect x="352.73" y="373.26" width="33.01" height="5.49" fill="#eeb474"/>
<rect x="385.68" y="373.26" width="33.01" height="5.49" fill="#eeb878"/>
<rect x="418.64" y="373.26" width="33.01" height="5.49" fill="#f3d48e"/>
<rect x="56.1" y="378.7" width="33.01" height="5.49" fill="#efc07e"/>
<rect x="89.06" y="378.7" width="33.01" height="5.49" fill="#f0c785"/>
<rect x="122.02" y="378.7" width="33.01" height="5.49" fill="#f9efb8"/>
<rect x="154.97" y="378.7" width="33.01" height="5.49" fill="#f8ebae"/>
<rect x="187.93" y="378.7" width="33.01" height="5.49" fill="#f8eaab"/>
<rect x="220.89" y="378.7" width="33.01" height="5.49" fill="#f8eeb4"/>
<rect x="253.85" y="378.7" width="33.01" height="5.49" fill="#f6dd98"/>
<rect x="286.81" y="378.7" width="33.01" height="5.49" fill="#f5da94"/>
<rect x="319.77" y="378.7" width="33.01" height="5.49" fill="#f4d892"/>
<rect x="352.73" y="378.7" width="33.01" height="5.49" fill="#f3d48e"/>
<rect x="385.68" y="378.7" width="33.01" height="5.49" fill="#f3d08a"/>
<rect x="418.64" y="378.7" width="33.01" height="5.49" fill="#f6df9a"/>
<rect x="56.1" y="384.14" width="33.01" height="5.49" fill="#f5d893"/>
<rect x="89.06" y="384.14" width="33.01" height="5.49" fill="#f6dc96"/>
<rect x="122.02" y="384.14" width="33.01" height="5.49" fill="#f9efb8"/>
<rect x="154.97" y="384.14" width="33.01" height="5.49" fill="#f8e8a8"/>
<rect x="187.93" y="384.14" width="33.01" height="5.49" fill="#f8e9aa"/>
<rect x="220.89" y="384.14" width="33.01" height="5.49" fill="#f8eeb6"/>
<rect x="253.85" y="384.14" width="33.01" height="5.49" fill="#f8e8a8"/>
<rect x="286.81" y="384.14" width="33.01" height="5.49" fill="#f6df9a"/>
<rect x="319.77" y="384.14" width="33.01" height="5.49" fill="#f5da94"/>
<rect x="352.73" y="384.14" width="33.01" height="5.49" fill="#eeb474"/>
<rect x="385.68" y="384.14" width="33.01" height="5.49" fill="#eeb676"/>
<rect x="418.64" y="384.14" width="33.01" height="5.49" fill="#f2cf8a"/>
<rect x="56.1" y="389.58" width="33.01" height="5.49" fill="#f7e2a0"/>
<rect x="89.06" y="389.58" width="33.01" height="5.49" fill="#f6df9a"/>
<rect x="122.02" y="389.58" width="33.01" height="5.49" fill="#f8ebae"/>
<rect x="154.97" y="389.58" width="33.01" height="5.49" fill="#f6e09c"/>
<rect x="187.93" y="389.58" width="33.01" height="5.49" fill="#f8e8a8"/>
<rect x="220.89" y="389.58" width="33.01" height="5.49" fill="#f8ecb0"/>
<rect x="253.85" y="389.58" width="33.01" height="5.49" fill="#f8e9aa"/>
<rect x="286.81" y="389.58" width="33.01" height="5.49" fill="#f6df9a"/>
<rect x="319.77" y="389.58" width="33.01" height="5.49" fill="#f6e09c"/>
<rect x="352.73" y="389.58" width="33.01" height="5.49" fill="#f5dc96"/>
<rect x="385.68" y="389.58" width="33.01" height="5.49" fill="#f3d48e"/>
<rect x="418.64" y="389.58" width="33.01" height="5.49" fill="#f6e09c"/>
<rect x="56.1" y="395.02" width="33.01" height="5.49" fill="#f6dd98"/>
<rect x="89.06" y="395.02" width="33.01" height="5.49" fill="#f6e0a0"/>
<rect x="122.02" y="395.02" width="33.01" height="5.49" fill="#f8eeb4"/>
<rect x="154.97" y="395.02" width="33.01" height="5.49" fill="#f8e8a8"/>
<rect x="187.93" y="395.02" width="33.01" height="5.49" fill="#f8ebae"/>
<rect x="220.89" y="395.02" width="33.01" height="5.49" fill="#f6e09c"/>
<rect x="253.85" y="395.02" width="33.01" height="5.49" fill="#f6e09c"/>
<rect x="286.81" y="395.02" width="33.01" height="5.49" fill="#f5da94"/>
<rect x="319.77" y="395.02" width="33.01" height="5.49" fill="#f5d892"/>
<rect x="352.73" y="395.02" width="33.01" height="5.49" fill="#f3d48e"/>
<rect x="385.68" y="395.02" width="33.01" height="5.49" fill="#f3d08a"/>
<rect x="418.64" y="395.02" width="33.01" height="5.49" fill="#f5da94"/>
<rect x="56.1" y="400.46" width="33.01" height="5.49" fill="#f9edb4"/>
<rect x="89.06" y="400.46" width="33.01" height="5.49" fill="#f8eaab"/>
<rect x="122.02" y="400.46" width="33.01" height="5.49" fill="#f9efb8"/>
<rect x="154.97" y="400.46" width="33.01" height="5.49" fill="#f8ebae"/>
<rect x="187.93" y="400.46" width="33.01" height="5.49" fill="#f9edb4"/>
<rect x="220.89" y="400.46" width="33.01" height="5.49" fill="#f8eeb4"/>
<rect x="253.85" y="400.46" width="33.01" height="5.49" fill="#f8e8a8"/>
<rect x="286.81" y="400.46" width="33.01" height="5.49" fill="#f8e8a8"/>
<rect x="319.77" y="400.46" width="33.01" height="5.49" fill="#f5da94"/>
<rect x="352.73" y="400.46" width="33.01" height="5.49" fill="#f2cf8a"/>
<rect x="385.68" y="400.46" width="33.01" height="5.49" fill="#f2cf8a"/>
<rect x="418.64" y="400.46" width="33.01" height="5.49" fill="#f5dc96"/>
<rect x="56.1" y="405.9" width="33.01" height="5.49" fill="#eeb474"/>
<rect x="89.06" y="405.9" width="33.01" height="5.49" fill="#efb877"/>
<rect x="122.02" y="405.9" width="33.01" height="5.49" fill="#eba56c"/>
<rect x="154.97" y="405.9" width="33.01" height="5.49" fill="#eca66c"/>
<rect x="187.93" y="405.9" width="33.01" height="5.49" fill="#eba46a"/>
<rect x="220.89" y="405.9" width="33.01" height="5.49" fill="#f8f0c0"/>
<rect x="253.85" y="405.9" width="33.01" height="5.49" fill="#f3d48e"/>
<rect x="286.81" y="405.9" width="33.01" height="5.49" fill="#f2cd88"/>
<rect x="319.77" y="405.9" width="33.01" height="5.49" fill="#f7e4a4"/>
<rect x="352.73" y="405.9" width="33.01" height="5.49" fill="#f5da94"/>
<rect x="385.68" y="405.9" width="33.01" height="5.49" fill="#f5d892"/>
<rect x="418.64" y="405.9" width="33.01" height="5.49" fill="#f6e09c"/>
<rect x="56.1" y="411.34" width="33.01" height="5.49" fill="#efbe7a"/>
<rect x="89.06" y="411.34" width="33.01" height="5.49" fill="#f0c27e"/>
<rect x="122.02" y="411.34" width="33.01" height="5.49" fill="#f7e3a2"/>
<rect x="154.97" y="411.34" width="33.01" height="5.49" fill="#f6e09c"/>
<rect x="187.93" y="411.34" width="33.01" height="5.49" fill="#f8eaab"/>
<rect x="220.89" y="411.34" width="33.01" height="5.49" fill="#f9efba"/>
<rect x="253.85" y="411.34" width="33.01" height="5.49" fill="#f6dd98"/>
<rect x="286.81" y="411.34" width="33.01" height="5.49" fill="#f3d48e"/>
<rect x="319.77" y="411.34" width="33.01" height="5.49" fill="#eef4e6"/>
<rect x="352.73" y="411.34" width="33.01" height="5.49" fill="#f9efba"/>
<rect x="385.68" y="411.34" width="33.01" height="5.49" fill="#f8eeb6"/>
<rect x="418.64" y="411.34" width="33.01" height="5.49" fill="#f8ebae"/>
<rect x="56.1" y="416.78" width="33.01" height="5.49" fill="#e6f0ec"/>
<rect x="89.06" y="416.78" width="33.01" height="5.49" fill="#f8f2c8"/>
<rect x="122.02" y="416.78" width="33.01" height="5.49" fill="#e0ecf0"/>
<rect x="154.97" y="416.78" width="33.01" height="5.49" fill="#f5f4d8"/>
<rect x="187.93" y="416.78" width="33.01" height="5.49" fill="#b8cde4"/>
<rect x="220.89" y="416.78" width="33.01" height="5.49" fill="#f0c27e"/>
<rect x="253.85" y="416.78" width="33.01" height="5.49" fill="#f8ebae"/>
<rect x="286.81" y="416.78" width="33.01" height="5.49" fill="#f9efba"/>
<rect x="319.77" y="416.78" width="33.01" height="5.49" fill="#eaf2ea"/>
<rect x="352.73" y="416.78" width="33.01" height="5.49" fill="#f0c682"/>
<rect x="385.68" y="416.78" width="33.01" height="5.49" fill="#f1c884"/>
<rect x="418.64" y="416.78" width="33.01" height="5.49" fill="#faf1c0"/>
<rect x="56.1" y="422.23" width="33.01" height="5.49" fill="#f8eaab"/>
<rect x="89.06" y="422.23" width="33.01" height="5.49" fill="#f8ebae"/>
<rect x="122.02" y="422.23" width="33.01" height="5.49" fill="#f9efb8"/>
<rect x="154.97" y="422.23" width="33.01" height="5.49" fill="#f7e4a4"/>
<rect x="187.93" y="422.23" width="33.01" height="5.49" fill="#dce9f2"/>
<rect x="220.89" y="422.23" width="33.01" height="5.49" fill="#f0c27e"/>
<rect x="253.85" y="422.23" width="33.01" height="5.49" fill="#f8e8a8"/>
<rect x="286.81" y="422.23" width="33.01" height="5.49" fill="#f9efba"/>
<rect x="319.77" y="422.23" width="33.01" height="5.49" fill="#f7e4a4"/>
<rect x="352.73" y="422.23" width="33.01" height="5.49" fill="#f8ebae"/>
<rect x="385.68" y="422.23" width="33.01" height="5.49" fill="#f8ebae"/>
<rect x="418.64" y="422.23" width="33.01" height="5.49" fill="#f9efba"/>
<rect x="56.1" y="427.67" width="33.01" height="5.49" fill="#eef4e6"/>
<rect x="89.06" y="427.67" width="33.01" height="5.49" fill="#f1f5e2"/>
<rect x="122.02" y="427.67" width="33.01" height="5.49" fill="#f8e8a8"/>
<rect x="154.97" y="427.67" width="33.01" height="5.49" fill="#f6e09c"/>
<rect x="187.93" y="427.67" width="33.01" height="5.49" fill="#f8eaab"/>
<rect x="220.89" y="427.67" width="33.01" height="5.49" fill="#eef4e6"/>
<rect x="253.85" y="427.67" width="33.01" height="5.49" fill="#f3d48e"/>
<rect x="286.81" y="427.67" width="33.01" height="5.49" fill="#f9efba"/>
<rect x="319.77" y="427.67" width="33.01" height="5.49" fill="#e9975e"/>
<rect x="352.73" y="427.67" width="33.01" height="5.49" fill="#f7e6a6"/>
<rect x="385.68" y="427.67" width="33.01" height="5.49" fill="#f9efba"/>
<rect x="418.64" y="427.67" width="33.01" height="5.49" fill="#f9f0bc"/>
<rect x="56.1" y="433.11" width="33.01" height="5.49" fill="#eef4e6"/>
<rect x="89.06" y="433.11" width="33.01" height="5.49" fill="#eef4e6"/>
<rect x="122.02" y="433.11" width="33.01" height="5.49" fill="#f9efba"/>
<rect x="154.97" y="433.11" width="33.01" height="5.49" fill="#f3f5e0"/>
<rect x="187.93" y="433.11" width="33.01" height="5.49" fill="#f3f5e0"/>
<rect x="220.89" y="433.11" width="33.01" height="5.49" fill="#dce9f2"/>
<rect x="253.85" y="433.11" width="33.01" height="5.49" fill="#f9efba"/>
<rect x="286.81" y="433.11" width="33.01" height="5.49" fill="#f9efba"/>
<rect x="319.77" y="433.11" width="33.01" height="5.49" fill="#f6e09c"/>
<rect x="352.73" y="433.11" width="33.01" height="5.49" fill="#f6e09c"/>
<rect x="385.68" y="433.11" width="33.01" height="5.49" fill="#f4d892"/>
<rect x="418.64" y="433.11" width="33.01" height="5.49" fill="#f8ebae"/>
<rect x="56.1" y="438.55" width="33.01" height="5.49" fill="#eaf2ea"/>
<rect x="89.06" y="438.55" width="33.01" height="5.49" fill="#e9f2ea"/>
<rect x="122.02" y="438.55" width="33.01" height="5.49" fill="#f3f5e0"/>
<rect x="154.97" y="438.55" width="33.01" height="5.49" fill="#f3f5e0"/>
<rect x="187.93" y="438.55" width="33.01" height="5.49" fill="#f3f5e0"/>
<rect x="220.89" y="438.55" width="33.01" height="5.49" fill="#aec5de"/>
<rect x="253.85" y="438.55" width="33.01" height="5.49" fill="#f3f5e0"/>
<rect x="286.81" y="438.55" width="33.01" height="5.49" fill="#f9f0bc"/>
<rect x="319.77" y="438.55" width="33.01" height="5.49" fill="#f9efba"/>
<rect x="352.73" y="438.55" width="33.01" height="5.49" fill="#f9f0bc"/>
<rect x="385.68" y="438.55" width="33.01" height="5.49" fill="#f9f0bc"/>
<rect x="418.64" y="438.55" width="33.01" height="5.49" fill="#f9efba"/>
<rect x="56.1" y="443.99" width="33.01" height="5.49" fill="#eaf2ea"/>
<rect x="89.06" y="443.99" width="33.01" height="5.49" fill="#eaf2ea"/>
<rect x="122.02" y="443.99" width="33.01" height="5.49" fill="#eef4e6"/>
<rect x="154.97" y="443.99" width="33.01" height="5.49" fill="#dfecf2"/>
<rect x="187.93" y="443.99" width="33.01" height="5.49" fill="#eef4e6"/>
<rect x="220.89" y="443.99" width="33.01" height="5.49" fill="#f8eeb4"/>
<rect x="253.85" y="443.99" width="33.01" height="5.49" fill="#f9efba"/>
<rect x="286.81" y="443.99" width="33.01" height="5.49" fill="#f9f0bc"/>
<rect x="319.77" y="443.99" width="33.01" height="5.49" fill="#f8ebae"/>
<rect x="352.73" y="443.99" width="33.01" height="5.49" fill="#f9f0bc"/>
<rect x="385.68" y="443.99" width="33.01" height="5.49" fill="#f9f0bc"/>
<rect x="418.64" y="443.99" width="33.01" height="5.49" fill="#f8ebae"/>
<rect x="56.1" y="449.43" width="33.01" height="5.49" fill="#f5dc96"/>
<rect x="89.06" y="449.43" width="33.01" height="5.49" fill="#f5da94"/>
<rect x="122.02" y="449.43" width="33.01" height="5.49" fill="#f8ebae"/>
<rect x="154.97" y="449.43" width="33.01" height="5.49" fill="#f8ebae"/>
<rect x="187.93" y="449.43" width="33.01" height="5.49" fill="#f7e4a4"/>
<rect x="220.89" y="449.43" width="33.01" height="5.49" fill="#eaf2ea"/>
<rect x="253.85" y="449.43" width="33.01" height="5.49" fill="#f9efba"/>
<rect x="286.81" y="449.43" width="33.01" height="5.49" fill="#f9f0bc"/>
<rect x="319.77" y="449.43" width="33.01" height="5.49" fill="#f9efba"/>
<rect x="352.73" y="449.43" width="33.01" height="5.49" fill="#f8ebae"/>
<rect x="385.68" y="449.43" width="33.01" height="5.49" fill="#f8eaab"/>
<rect x="418.64" y="449.43" width="33.01" height="5.49" fill="#f9efba"/>
<rect x="56.1" y="454.87" width="33.01" height="5.49" fill="#f5dc96"/>
<rect x="89.06" y="454.87" width="33.01" height="5.49" fill="#f6dd98"/>
<rect x="122.02" y="454.87" width="33.01" height="5.49" fill="#f8ebae"/>
<rect x="154.97" y="454.87" width="33.01" height="5.49" fill="#f6e09c"/>
<rect x="187.93" y="454.87" width="33.01" height="5.49" fill="#f5da94"/>
<rect x="220.89" y="454.87" width="33.01" height="5.49" fill="#e6f0ec"/>
<rect x="253.85" y="454.87" width="33.01" height="5.49" fill="#f9efba"/>
<rect x="286.81" y="454.87" width="33.01" height="5.49" fill="#f9efba"/>
<rect x="319.77" y="454.87" width="33.01" height="5.49" fill="#f8ebae"/>
<rect x="352.73" y="454.87" width="33.01" height="5.49" fill="#f8eaab"/>
<rect x="385.68" y="454.87" width="33.01" height="5.49" fill="#f8e8a8"/>
<rect x="418.64" y="454.87" width="33.01" height="5.49" fill="#f9efba"/>
<rect x="56.1" y="460.31" width="33.01" height="5.49" fill="#f8e8a8"/>
<rect x="89.06" y="460.31" width="33.01" height="5.49" fill="#f8e8a8"/>
<rect x="122.02" y="460.31" width="33.01" height="5.49" fill="#f9efba"/>
<rect x="154.97" y="460.31" width="33.01" height="5.49" fill="#f8e9aa"/>
<rect x="187.93" y="460.31" width="33.01" height="5.49" fill="#f6e09c"/>
<rect x="220.89" y="460.31" width="33.01" height="5.49" fill="#dfecf2"/>
<rect x="253.85" y="460.31" width="33.01" height="5.49" fill="#f9f0bc"/>
<rect x="286.81" y="460.31" width="33.01" height="5.49" fill="#f9f0bc"/>
<rect x="319.77" y="460.31" width="33.01" height="5.49" fill="#f8e8a8"/>
<rect x="352.73" y="460.31" width="33.01" height="5.49" fill="#f8ebae"/>
<rect x="385.68" y="460.31" width="33.01" height="5.49" fill="#f8e9aa"/>
<rect x="418.64" y="460.31" width="33.01" height="5.49" fill="#f8ebae"/>
<rect x="56.1" y="465.75" width="33.01" height="5.49" fill="#f8e9aa"/>
<rect x="89.06" y="465.75" width="33.01" height="5.49" fill="#f8eaab"/>
<rect x="122.02" y="465.75" width="33.01" height="5.49" fill="#f9efba"/>
<rect x="154.97" y="465.75" width="33.01" height="5.49" fill="#f8ebae"/>
<rect x="187.93" y="465.75" width="33.01" height="5.49" fill="#f8eaab"/>
<rect x="220.89" y="465.75" width="33.01" height="5.49" fill="#eef4e6"/>
<rect x="253.85" y="465.75" width="33.01" height="5.49" fill="#f9efba"/>
<rect x="286.81" y="465.75" width="33.01" height="5.49" fill="#f9efba"/>
<rect x="319.77" y="465.75" width="33.01" height="5.49" fill="#f8e8a8"/>
<rect x="352.73" y="465.75" width="33.01" height="5.49" fill="#f8ebae"/>
<rect x="385.68" y="465.75" width="33.01" height="5.49" fill="#f8eaab"/>
<rect x="418.64" y="465.75" width="33.01" height="5.49" fill="#f8ebae"/>
<rect x="56.1" y="471.19" width="33.01" height="5.49" fill="#f8e6a6"/>
<rect x="89.06" y="471.19" width="33.01" height="5.49" fill="#f8eaab"/>
<rect x="122.02" y="471.19" width="33.01" height="5.49" fill="#f9efba"/>
<rect x="154.97" y="471.19" width="33.01" height="5.49" fill="#f8eaab"/>
<rect x="187.93" y="471.19" width="33.01" height="5.49" fill="#f9efb8"/>
<rect x="220.89" y="471.19" width="33.01" height="5.49" fill="#e6f0ec"/>
<rect x="253.85" y="471.19" width="33.01" height="5.49" fill="#e6f0ec"/>
<rect x="286.81" y="471.19" width="33.01" height="5.49" fill="#f9efba"/>
<rect x="319.77" y="471.19" width="33.01" height="5.49" fill="#f8ebae"/>
<rect x="352.73" y="471.19" width="33.01" height="5.49" fill="#f8ebae"/>
<rect x="385.68" y="471.19" width="33.01" height="5.49" fill="#f8ebae"/>
<rect x="418.64" y="471.19" width="33.01" height="5.49" fill="#f8ebae"/>
<rect x="56.1" y="476.63" width="33.01" height="5.49" fill="#f8eaab"/>
<rect x="89.06" y="476.63" width="33.01" height="5.49" fill="#f8ebae"/>
<rect x="122.02" y="476.63" width="33.01" height="5.49" fill="#f9f0bc"/>
<rect x="154.97" y="476.63" width="33.01" height="5.49" fill="#f8ebae"/>
<rect x="187.93" y="476.63" width="33.01" height="5.49" fill="#f9efba"/>
<rect x="220.89" y="476.63" width="33.01" height="5.49" fill="#f8ebae"/>
<rect x="253.85" y="476.63" width="33.01" height="5.49" fill="#f6dd98"/>
<rect x="286.81" y="476.63" width="33.01" height="5.49" fill="#f9efba"/>
<rect x="319.77" y="476.63" width="33.01" height="5.49" fill="#f3f5e0"/>
<rect x="352.73" y="476.63" width="33.01" height="5.49" fill="#f3f5e0"/>
<rect x="385.68" y="476.63" width="33.01" height="5.49" fill="#f9f0bc"/>
<rect x="418.64" y="476.63" width="33.01" height="5.49" fill="#f9efba"/>
<rect x="56.1" y="482.07" width="33.01" height="5.49" fill="#f7e4a4"/>
<rect x="89.06" y="482.07" width="33.01" height="5.49" fill="#f8e8a8"/>
<rect x="122.02" y="482.07" width="33.01" height="5.49" fill="#eef4e6"/>
<rect x="154.97" y="482.07" width="33.01" height="5.49" fill="#dfecf2"/>
<rect x="187.93" y="482.07" width="33.01" height="5.49" fill="#f8ebae"/>
<rect x="220.89" y="482.07" width="33.01" height="5.49" fill="#f7e4a4"/>
<rect x="253.85" y="482.07" width="33.01" height="5.49" fill="#f3f5e0"/>
<rect x="286.81" y="482.07" width="33.01" height="5.49" fill="#f9f0bc"/>
<rect x="319.77" y="482.07" width="33.01" height="5.49" fill="#f8ebae"/>
<rect x="352.73" y="482.07" width="33.01" height="5.49" fill="#f8eaab"/>
<rect x="385.68" y="482.07" width="33.01" height="5.49" fill="#f8ebae"/>
<rect x="418.64" y="482.07" width="33.01" height="5.49" fill="#f9efba"/>
<rect x="56.1" y="487.51" width="33.01" height="5.49" fill="#f7e4a4"/>
<rect x="89.06" y="487.51" width="33.01" height="5.49" fill="#f7e3a2"/>
<rect x="122.02" y="487.51" width="33.01" height="5.49" fill="#f9efba"/>
<rect x="154.97" y="487.51" width="33.01" height="5.49" fill="#eef4e6"/>
<rect x="187.93" y="487.51" width="33.01" height="5.49" fill="#f3f5e0"/>
<rect x="220.89" y="487.51" width="33.01" height="5.49" fill="#f7e4a4"/>
<rect x="253.85" y="487.51" width="33.01" height="5.49" fill="#f9efba"/>
<rect x="286.81" y="487.51" width="33.01" height="5.49" fill="#f9efba"/>
<rect x="319.77" y="487.51" width="33.01" height="5.49" fill="#f9efba"/>
<rect x="352.73" y="487.51" width="33.01" height="5.49" fill="#f8e9aa"/>
<rect x="385.68" y="487.51" width="33.01" height="5.49" fill="#f8e8a8"/>
<rect x="418.64" y="487.51" width="33.01" height="5.49" fill="#f9f0bc"/>
<rect x="56.1" y="492.95" width="33.01" height="5.49" fill="#f8ebae"/>
<rect x="89.06" y="492.95" width="33.01" height="5.49" fill="#f8ebae"/>
<rect x="122.02" y="492.95" width="33.01" height="5.49" fill="#f9efba"/>
<rect x="154.97" y="492.95" width="33.01" height="5.49" fill="#f9efba"/>
<rect x="187.93" y="492.95" width="33.01" height="5.49" fill="#f9efba"/>
<rect x="220.89" y="492.95" width="33.01" height="5.49" fill="#f6e09c"/>
<rect x="253.85" y="492.95" width="33.01" height="5.49" fill="#f7e4a4"/>
<rect x="286.81" y="492.95" width="33.01" height="5.49" fill="#f9efba"/>
<rect x="319.77" y="492.95" width="33.01" height="5.49" fill="#f8ebae"/>
<rect x="352.73" y="492.95" width="33.01" height="5.49" fill="#f8ebae"/>
<rect x="385.68" y="492.95" width="33.01" height="5.49" fill="#f8ebae"/>
<rect x="418.64" y="492.95" width="33.01" height="5.49" fill="#f8ebae"/>
<rect x="56.1" y="498.39" width="33.01" height="5.49" fill="#a9c2dc"/>
<rect x="89.06" y="498.39" width="33.01" height="5.49" fill="#a9c2dc"/>
<rect x="122.02" y="498.39" width="33.01" height="5.49" fill="#a9c2dc"/>
<rect x="154.97" y="498.39" width="33.01" height="5.49" fill="#a9c2dc"/>
<rect x="187.93" y="498.39" width="33.01" height="5.49" fill="#b3c9e0"/>
<rect x="220.89" y="498.39" width="33.01" height="5.49" fill="#c4d6ea"/>
<rect x="253.85" y="498.39" width="33.01" height="5.49" fill="#dfecf2"/>
<rect x="286.81" y="498.39" width="33.01" height="5.49" fill="#eef4e6"/>
<rect x="319.77" y="498.39" width="33.01" height="5.49" fill="#e3eef0"/>
<rect x="352.73" y="498.39" width="33.01" height="5.49" fill="#f6e09c"/>
<rect x="385.68" y="498.39" width="33.01" height="5.49" fill="#eba66c"/>
<rect x="418.64" y="498.39" width="33.01" height="5.49" fill="#c8302f"/>
<rect x="56.1" y="503.83" width="33.01" height="5.49" fill="#a3bcd8"/>
<rect x="89.06" y="503.83" width="33.01" height="5.49" fill="#a9c2dc"/>
<rect x="122.02" y="503.83" width="33.01" height="5.49" fill="#c4d6ea"/>
<rect x="154.97" y="503.83" width="33.01" height="5.49" fill="#f8ebae"/>
<rect x="187.93" y="503.83" width="33.01" height="5.49" fill="#a9c2dc"/>
<rect x="220.89" y="503.83" width="33.01" height="5.49" fill="#dfecf2"/>
<rect x="253.85" y="503.83" width="33.01" height="5.49" fill="#f3d48e"/>
<rect x="286.81" y="503.83" width="33.01" height="5.49" fill="#f9efba"/>
<rect x="319.77" y="503.83" width="33.01" height="5.49" fill="#a9c2dc"/>
<rect x="352.73" y="503.83" width="33.01" height="5.49" fill="#eef4e6"/>
<rect x="385.68" y="503.83" width="33.01" height="5.49" fill="#a9c2dc"/>
<rect x="418.64" y="503.83" width="33.01" height="5.49" fill="#bed2e6"/>
<rect x="56.1" y="509.27" width="33.01" height="5.49" fill="#f3f5e0"/>
<rect x="89.06" y="509.27" width="33.01" height="5.49" fill="#eef4e6"/>
<rect x="122.02" y="509.27" width="33.01" height="5.49" fill="#f7f3d0"/>
<rect x="154.97" y="509.27" width="33.01" height="5.49" fill="#f9efba"/>
<rect x="187.93" y="509.27" width="33.01" height="5.49" fill="#eef4e6"/>
<rect x="220.89" y="509.27" width="33.01" height="5.49" fill="#eef4e6"/>
<rect x="253.85" y="509.27" width="33.01" height="5.49" fill="#e3eef0"/>
<rect x="286.81" y="509.27" width="33.01" height="5.49" fill="#f3f5e0"/>
<rect x="319.77" y="509.27" width="33.01" height="5.49" fill="#c4d6ea"/>
<rect x="352.73" y="509.27" width="33.01" height="5.49" fill="#eef4e6"/>
<rect x="385.68" y="509.27" width="33.01" height="5.49" fill="#eef4e6"/>
<rect x="418.64" y="509.27" width="33.01" height="5.49" fill="#f3f5e0"/>
<rect x="56.1" y="514.71" width="33.01" height="5.49" fill="#f3f5e0"/>
<rect x="89.06" y="514.71" width="33.01" height="5.49" fill="#eef4e6"/>
<rect x="122.02" y="514.71" width="33.01" height="5.49" fill="#f3f5e0"/>
<rect x="154.97" y="514.71" width="33.01" height="5.49" fill="#f3f5e0"/>
<rect x="187.93" y="514.71" width="33.01" height="5.49" fill="#f3f5e0"/>
<rect x="220.89" y="514.71" width="33.01" height="5.49" fill="#eaf2ea"/>
<rect x="253.85" y="514.71" width="33.01" height="5.49" fill="#d8e7f2"/>
<rect x="286.81" y="514.71" width="33.01" height="5.49" fill="#eef4e6"/>
<rect x="319.77" y="514.71" width="33.01" height="5.49" fill="#dfecf2"/>
<rect x="352.73" y="514.71" width="33.01" height="5.49" fill="#d8e7f2"/>
<rect x="385.68" y="514.71" width="33.01" height="5.49" fill="#d8e7f2"/>
<rect x="418.64" y="514.71" width="33.01" height="5.49" fill="#e3eef0"/>
<rect x="56.1" y="520.15" width="33.01" height="5.49" fill="#f9f0bc"/>
<rect x="89.06" y="520.15" width="33.01" height="5.49" fill="#f5f4d6"/>
<rect x="122.02" y="520.15" width="33.01" height="5.49" fill="#f3f5e0"/>
<rect x="154.97" y="520.15" width="33.01" height="5.49" fill="#eef4e6"/>
<rect x="187.93" y="520.15" width="33.01" height="5.49" fill="#f3f5e0"/>
<rect x="220.89" y="520.15" width="33.01" height="5.49" fill="#e6f0ec"/>
<rect x="253.85" y="520.15" width="33.01" height="5.49" fill="#eaf2ea"/>
<rect x="286.81" y="520.15" width="33.01" height="5.49" fill="#eef4e6"/>
<rect x="319.77" y="520.15" width="33.01" height="5.49" fill="#e6f0ec"/>
<rect x="352.73" y="520.15" width="33.01" height="5.49" fill="#e6f0ec"/>
<rect x="385.68" y="520.15" width="33.01" height="5.49" fill="#eaf2ea"/>
<rect x="418.64" y="520.15" width="33.01" height="5.49" fill="#eef4e6"/>
<rect x="56.1" y="525.59" width="33.01" height="5.49" fill="#f7f3d0"/>
<rect x="89.06" y="525.59" width="33.01" height="5.49" fill="#f7f3d0"/>
<rect x="122.02" y="525.59" width="33.01" height="5.49" fill="#eef4e6"/>
<rect x="154.97" y="525.59" width="33.01" height="5.49" fill="#f3f5e0"/>
<rect x="187.93" y="525.59" width="33.01" height="5.49" fill="#f5f2cc"/>
<rect x="220.89" y="525.59" width="33.01" height="5.49" fill="#eef4e6"/>
<rect x="253.85" y="525.59" width="33.01" height="5.49" fill="#f3f5e0"/>
<rect x="286.81" y="525.59" width="33.01" height="5.49" fill="#f3f5e0"/>
<rect x="319.77" y="525.59" width="33.01" height="5.49" fill="#eaf2ea"/>
<rect x="352.73" y="525.59" width="33.01" height="5.49" fill="#f3f5e0"/>
<rect x="385.68" y="525.59" width="33.01" height="5.49" fill="#eef4e6"/>
<rect x="418.64" y="525.59" width="33.01" height="5.49" fill="#f3f5e0"/>
<rect x="56.1" y="531.03" width="33.01" height="5.49" fill="#eef4e6"/>
<rect x="89.06" y="531.03" width="33.01" height="5.49" fill="#f3f5e0"/>
<rect x="122.02" y="531.03" width="33.01" height="5.49" fill="#eaf2ea"/>
<rect x="154.97" y="531.03" width="33.01" height="5.49" fill="#f3f5e0"/>
<rect x="187.93" y="531.03" width="33.01" height="5.49" fill="#f3f5e0"/>
<rect x="220.89" y="531.03" width="33.01" height="5.49" fill="#f3f5e0"/>
<rect x="253.85" y="531.03" width="33.01" height="5.49" fill="#eef4e6"/>
<rect x="286.81" y="531.03" width="33.01" height="5.49" fill="#f3f5e0"/>
<rect x="319.77" y="531.03" width="33.01" height="5.49" fill="#eaf2ea"/>
<rect x="352.73" y="531.03" width="33.01" height="5.49" fill="#f3f5e0"/>
<rect x="385.68" y="531.03" width="33.01" height="5.49" fill="#f3f5e0"/>
<rect x="418.64" y="531.03" width="33.01" height="5.49" fill="#eaf2ea"/>
<rect x="56.1" y="536.47" width="33.01" height="5.49" fill="#dce9f2"/>
<rect x="89.06" y="536.47" width="33.01" height="5.49" fill="#f3f5e0"/>
<rect x="122.02" y="536.47" width="33.01" height="5.49" fill="#eef4e6"/>
<rect x="154.97" y="536.47" width="33.01" height="5.49" fill="#e3eef0"/>
<rect x="187.93" y="536.47" width="33.01" height="5.49" fill="#f5da94"/>
<rect x="220.89" y="536.47" width="33.01" height="5.49" fill="#eaf2ea"/>
<rect x="253.85" y="536.47" width="33.01" height="5.49" fill="#e3eef0"/>
<rect x="286.81" y="536.47" width="33.01" height="5.49" fill="#c8daea"/>
<rect x="319.77" y="536.47" width="33.01" height="5.49" fill="#c8daea"/>
<rect x="352.73" y="536.47" width="33.01" height="5.49" fill="#d8e7f2"/>
<rect x="385.68" y="536.47" width="33.01" height="5.49" fill="#d8e7f2"/>
<rect x="418.64" y="536.47" width="33.01" height="5.49" fill="#d8e7f2"/>
<rect x="56.1" y="541.91" width="33.01" height="5.49" fill="#e9f2ea"/>
<rect x="89.06" y="541.91" width="33.01" height="5.49" fill="#eaf2ea"/>
<rect x="122.02" y="541.91" width="33.01" height="5.49" fill="#dfecf2"/>
<rect x="154.97" y="541.91" width="33.01" height="5.49" fill="#dfecf2"/>
<rect x="187.93" y="541.91" width="33.01" height="5.49" fill="#eef4e6"/>
<rect x="220.89" y="541.91" width="33.01" height="5.49" fill="#d8e7f2"/>
<rect x="253.85" y="541.91" width="33.01" height="5.49" fill="#dfecf2"/>
<rect x="286.81" y="541.91" width="33.01" height="5.49" fill="#a9c2dc"/>
<rect x="319.77" y="541.91" width="33.01" height="5.49" fill="#dfecf2"/>
<rect x="352.73" y="541.91" width="33.01" height="5.49" fill="#dfecf2"/>
<rect x="385.68" y="541.91" width="33.01" height="5.49" fill="#dfecf2"/>
<rect x="418.64" y="541.91" width="33.01" height="5.49" fill="#dfecf2"/>
<rect x="56.1" y="547.35" width="33.01" height="5.49" fill="#e3eef0"/>
<rect x="89.06" y="547.35" width="33.01" height="5.49" fill="#e3eef0"/>
<rect x="122.02" y="547.35" width="33.01" height="5.49" fill="#e3eef0"/>
<rect x="154.97" y="547.35" width="33.01" height="5.49" fill="#f3f5e0"/>
<rect x="187.93" y="547.35" width="33.01" height="5.49" fill="#eef4e6"/>
<rect x="220.89" y="547.35" width="33.01" height="5.49" fill="#9ab5d5"/>
<rect x="253.85" y="547.35" width="33.01" height="5.49" fill="#f7e4a4"/>
<rect x="286.81" y="547.35" width="33.01" height="5.49" fill="#eef4e6"/>
<rect x="319.77" y="547.35" width="33.01" height="5.49" fill="#f9efba"/>
<rect x="352.73" y="547.35" width="33.01" height="5.49" fill="#e3eef0"/>
<rect x="385.68" y="547.35" width="33.01" height="5.49" fill="#e3eef0"/>
<rect x="418.64" y="547.35" width="33.01" height="5.49" fill="#f5dc96"/>
<rect x="56.1" y="552.79" width="33.01" height="5.49" fill="#f3f5e0"/>
<rect x="89.06" y="552.79" width="33.01" height="5.49" fill="#eef4e6"/>
<rect x="122.02" y="552.79" width="33.01" height="5.49" fill="#dfecf2"/>
<rect x="154.97" y="552.79" width="33.01" height="5.49" fill="#e3eef0"/>
<rect x="187.93" y="552.79" width="33.01" height="5.49" fill="#c8daea"/>
<rect x="220.89" y="552.79" width="33.01" height="5.49" fill="#eef4e6"/>
<rect x="253.85" y="552.79" width="33.01" height="5.49" fill="#f8ebae"/>
<rect x="286.81" y="552.79" width="33.01" height="5.49" fill="#f3f5e0"/>
<rect x="319.77" y="552.79" width="33.01" height="5.49" fill="#f8ebae"/>
<rect x="352.73" y="552.79" width="33.01" height="5.49" fill="#e3eef0"/>
<rect x="385.68" y="552.79" width="33.01" height="5.49" fill="#e3eef0"/>
<rect x="418.64" y="552.79" width="33.01" height="5.49" fill="#eef4e6"/>
<rect x="56.1" y="558.23" width="33.01" height="5.49" fill="#f5f4d6"/>
<rect x="89.06" y="558.23" width="33.01" height="5.49" fill="#f3f5e0"/>
<rect x="122.02" y="558.23" width="33.01" height="5.49" fill="#eaf2ea"/>
<rect x="154.97" y="558.23" width="33.01" height="5.49" fill="#eef4e6"/>
<rect x="187.93" y="558.23" width="33.01" height="5.49" fill="#b8cde4"/>
<rect x="220.89" y="558.23" width="33.01" height="5.49" fill="#8fadd2"/>
<rect x="253.85" y="558.23" width="33.01" height="5.49" fill="#f3f5e0"/>
<rect x="286.81" y="558.23" width="33.01" height="5.49" fill="#eef4e6"/>
<rect x="319.77" y="558.23" width="33.01" height="5.49" fill="#dfecf2"/>
<rect x="352.73" y="558.23" width="33.01" height="5.49" fill="#eef4e6"/>
<rect x="385.68" y="558.23" width="33.01" height="5.49" fill="#f3f5e0"/>
<rect x="418.64" y="558.23" width="33.01" height="5.49" fill="#f3f5e0"/>
<rect x="56.1" y="563.67" width="33.01" height="5.49" fill="#f9f0bc"/>
<rect x="89.06" y="563.67" width="33.01" height="5.49" fill="#f9f0bc"/>
<rect x="122.02" y="563.67" width="33.01" height="5.49" fill="#dfecf2"/>
<rect x="154.97" y="563.67" width="33.01" height="5.49" fill="#d8e7f2"/>
<rect x="187.93" y="563.67" width="33.01" height="5.49" fill="#d8e7f2"/>
<rect x="220.89" y="563.67" width="33.01" height="5.49" fill="#a9c2dc"/>
<rect x="253.85" y="563.67" width="33.01" height="5.49" fill="#eef4e6"/>
<rect x="286.81" y="563.67" width="33.01" height="5.49" fill="#eef4e6"/>
<rect x="319.77" y="563.67" width="33.01" height="5.49" fill="#f3f5e0"/>
<rect x="352.73" y="563.67" width="33.01" height="5.49" fill="#f9f0bc"/>
<rect x="385.68" y="563.67" width="33.01" height="5.49" fill="#f9f0bc"/>
<rect x="418.64" y="563.67" width="33.01" height="5.49" fill="#eef4e6"/>
<rect x="56.1" y="569.12" width="33.01" height="5.49" fill="#7393c5"/>
<rect x="89.06" y="569.12" width="33.01" height="5.49" fill="#a9c2dc"/>
<rect x="122.02" y="569.12" width="33.01" height="5.49" fill="#7896c8"/>
<rect x="154.97" y="569.12" width="33.01" height="5.49" fill="#eaf2ea"/>
<rect x="187.93" y="569.12" width="33.01" height="5.49" fill="#7e9cc9"/>
<rect x="220.89" y="569.12" width="33.01" height="5.49" fill="#8fadd2"/>
<rect x="253.85" y="569.12" width="33.01" height="5.49" fill="#9ab5d5"/>
<rect x="286.81" y="569.12" width="33.01" height="5.49" fill="#6a8cc8"/>
<rect x="319.77" y="569.12" width="33.01" height="5.49" fill="#eca06a"/>
<rect x="352.73" y="569.12" width="33.01" height="5.49" fill="#b3c9e0"/>
<rect x="385.68" y="569.12" width="33.01" height="5.49" fill="#7393c5"/>
<rect x="418.64" y="569.12" width="33.01" height="5.49" fill="#7896c8"/>
<rect x="56.1" y="574.56" width="33.01" height="5.49" fill="#a9c2dc"/>
<rect x="89.06" y="574.56" width="33.01" height="5.49" fill="#eaf2ea"/>
<rect x="122.02" y="574.56" width="33.01" height="5.49" fill="#abc4de"/>
<rect x="154.97" y="574.56" width="33.01" height="5.49" fill="#e3eef0"/>
<rect x="187.93" y="574.56" width="33.01" height="5.49" fill="#abc4de"/>
<rect x="220.89" y="574.56" width="33.01" height="5.49" fill="#c4d6ea"/>
<rect x="253.85" y="574.56" width="33.01" height="5.49" fill="#eef4e6"/>
<rect x="286.81" y="574.56" width="33.01" height="5.49" fill="#c4d6ea"/>
<rect x="319.77" y="574.56" width="33.01" height="5.49" fill="#d03a35"/>
<rect x="352.73" y="574.56" width="33.01" height="5.49" fill="#f9f0bc"/>
<rect x="385.68" y="574.56" width="33.01" height="5.49" fill="#b3c9e0"/>
<rect x="418.64" y="574.56" width="33.01" height="5.49" fill="#b3c9e0"/>
<rect x="56.1" y="580" width="33.01" height="5.49" fill="#6a8cc8"/>
<rect x="89.06" y="580" width="33.01" height="5.49" fill="#6f90c6"/>
<rect x="122.02" y="580" width="33.01" height="5.49" fill="#6f90c6"/>
<rect x="154.97" y="580" width="33.01" height="5.49" fill="#6a8cc8"/>
<rect x="187.93" y="580" width="33.01" height="5.49" fill="#6a8cc8"/>
<rect x="220.89" y="580" width="33.01" height="5.49" fill="#7393c5"/>
<rect x="253.85" y="580" width="33.01" height="5.49" fill="#6f90c6"/>
<rect x="286.81" y="580" width="33.01" height="5.49" fill="#7393c5"/>
<rect x="319.77" y="580" width="33.01" height="5.49" fill="#7393c5"/>
<rect x="352.73" y="580" width="33.01" height="5.49" fill="#6f90c6"/>
<rect x="385.68" y="580" width="33.01" height="5.49" fill="#6a8cc8"/>
<rect x="418.64" y="580" width="33.01" height="5.49" fill="#6a8cc8"/>
<rect x="56.1" y="585.44" width="33.01" height="5.49" fill="#bed2e6"/>
<rect x="89.06" y="585.44" width="33.01" height="5.49" fill="#b8cde4"/>
<rect x="122.02" y="585.44" width="33.01" height="5.49" fill="#8fadd2"/>
<rect x="154.97" y="585.44" width="33.01" height="5.49" fill="#a3bcd8"/>
<rect x="187.93" y="585.44" width="33.01" height="5.49" fill="#6f90c6"/>
<rect x="220.89" y="585.44" width="33.01" height="5.49" fill="#bed2e6"/>
<rect x="253.85" y="585.44" width="33.01" height="5.49" fill="#b8cde4"/>
<rect x="286.81" y="585.44" width="33.01" height="5.49" fill="#dfecf2"/>
<rect x="319.77" y="585.44" width="33.01" height="5.49" fill="#eef4e6"/>
<rect x="352.73" y="585.44" width="33.01" height="5.49" fill="#f9f0bc"/>
<rect x="385.68" y="585.44" width="33.01" height="5.49" fill="#f3f5e0"/>
<rect x="418.64" y="585.44" width="33.01" height="5.49" fill="#eaf2ea"/>
<rect x="56.1" y="590.88" width="33.01" height="5.49" fill="#c4d6ea"/>
<rect x="89.06" y="590.88" width="33.01" height="5.49" fill="#b8cde4"/>
<rect x="122.02" y="590.88" width="33.01" height="5.49" fill="#a9c2dc"/>
<rect x="154.97" y="590.88" width="33.01" height="5.49" fill="#c4d6ea"/>
<rect x="187.93" y="590.88" width="33.01" height="5.49" fill="#dfecf2"/>
<rect x="220.89" y="590.88" width="33.01" height="5.49" fill="#c4d6ea"/>
<rect x="253.85" y="590.88" width="33.01" height="5.49" fill="#eaf2ea"/>
<rect x="286.81" y="590.88" width="33.01" height="5.49" fill="#e3eef0"/>
<rect x="319.77" y="590.88" width="33.01" height="5.49" fill="#abc4de"/>
<rect x="352.73" y="590.88" width="33.01" height="5.49" fill="#abc4de"/>
<rect x="385.68" y="590.88" width="33.01" height="5.49" fill="#abc4de"/>
<rect x="418.64" y="590.88" width="33.01" height="5.49" fill="#b3c9e0"/>
<rect x="56.1" y="596.32" width="33.01" height="5.49" fill="#a9c2dc"/>
<rect x="89.06" y="596.32" width="33.01" height="5.49" fill="#a3bcd8"/>
<rect x="122.02" y="596.32" width="33.01" height="5.49" fill="#c8daea"/>
<rect x="154.97" y="596.32" width="33.01" height="5.49" fill="#c4d6ea"/>
<rect x="187.93" y="596.32" width="33.01" height="5.49" fill="#e3eef0"/>
<rect x="220.89" y="596.32" width="33.01" height="5.49" fill="#abc4de"/>
<rect x="253.85" y="596.32" width="33.01" height="5.49" fill="#c4d6ea"/>
<rect x="286.81" y="596.32" width="33.01" height="5.49" fill="#eaf2ea"/>
<rect x="319.77" y="596.32" width="33.01" height="5.49" fill="#a9c2dc"/>
<rect x="352.73" y="596.32" width="33.01" height="5.49" fill="#abc4de"/>
<rect x="385.68" y="596.32" width="33.01" height="5.49" fill="#a9c2dc"/>
<rect x="418.64" y="596.32" width="33.01" height="5.49" fill="#b8cde4"/>
<rect x="56.1" y="601.76" width="33.01" height="5.49" fill="#8fadd2"/>
<rect x="89.06" y="601.76" width="33.01" height="5.49" fill="#95b1d4"/>
<rect x="122.02" y="601.76" width="33.01" height="5.49" fill="#a3bcd8"/>
<rect x="154.97" y="601.76" width="33.01" height="5.49" fill="#a9c2dc"/>
<rect x="187.93" y="601.76" width="33.01" height="5.49" fill="#abc4de"/>
<rect x="220.89" y="601.76" width="33.01" height="5.49" fill="#a9c2dc"/>
<rect x="253.85" y="601.76" width="33.01" height="5.49" fill="#a9c2dc"/>
<rect x="286.81" y="601.76" width="33.01" height="5.49" fill="#a9c2dc"/>
<rect x="319.77" y="601.76" width="33.01" height="5.49" fill="#a3bcd8"/>
<rect x="352.73" y="601.76" width="33.01" height="5.49" fill="#a9c2dc"/>
<rect x="385.68" y="601.76" width="33.01" height="5.49" fill="#a9c2dc"/>
<rect x="418.64" y="601.76" width="33.01" height="5.49" fill="#a9c2dc"/>
<rect x="56.1" y="607.2" width="33.01" height="5.49" fill="#95b1d4"/>
<rect x="89.06" y="607.2" width="33.01" height="5.49" fill="#95b1d4"/>
<rect x="122.02" y="607.2" width="33.01" height="5.49" fill="#a9c2dc"/>
<rect x="154.97" y="607.2" width="33.01" height="5.49" fill="#9ab5d5"/>
<rect x="187.93" y="607.2" width="33.01" height="5.49" fill="#9ab5d5"/>
<rect x="220.89" y="607.2" width="33.01" height="5.49" fill="#8fadd2"/>
<rect x="253.85" y="607.2" width="33.01" height="5.49" fill="#a3bcd8"/>
<rect x="286.81" y="607.2" width="33.01" height="5.49" fill="#a3bcd8"/>
<rect x="319.77" y="607.2" width="33.01" height="5.49" fill="#a3bcd8"/>
<rect x="352.73" y="607.2" width="33.01" height="5.49" fill="#9ab5d5"/>
<rect x="385.68" y="607.2" width="33.01" height="5.49" fill="#8fadd2"/>
<rect x="418.64" y="607.2" width="33.01" height="5.49" fill="#a3bcd8"/>
<rect x="56.1" y="612.64" width="33.01" height="5.49" fill="#bed2e6"/>
<rect x="89.06" y="612.64" width="33.01" height="5.49" fill="#bed2e6"/>
<rect x="122.02" y="612.64" width="33.01" height="5.49" fill="#b3c9e0"/>
<rect x="154.97" y="612.64" width="33.01" height="5.49" fill="#c4d6ea"/>
<rect x="187.93" y="612.64" width="33.01" height="5.49" fill="#b3c9e0"/>
<rect x="220.89" y="612.64" width="33.01" height="5.49" fill="#5f82c2"/>
<rect x="253.85" y="612.64" width="33.01" height="5.49" fill="#a9c2dc"/>
<rect x="286.81" y="612.64" width="33.01" height="5.49" fill="#a3bcd8"/>
<rect x="319.77" y="612.64" width="33.01" height="5.49" fill="#c4d6ea"/>
<rect x="352.73" y="612.64" width="33.01" height="5.49" fill="#c4d6ea"/>
<rect x="385.68" y="612.64" width="33.01" height="5.49" fill="#bed2e6"/>
<rect x="418.64" y="612.64" width="33.01" height="5.49" fill="#abc4de"/>
<rect x="56.1" y="618.08" width="33.01" height="5.49" fill="#dfecf2"/>
<rect x="89.06" y="618.08" width="33.01" height="5.49" fill="#e3eef0"/>
<rect x="122.02" y="618.08" width="33.01" height="5.49" fill="#c4d6ea"/>
<rect x="154.97" y="618.08" width="33.01" height="5.49" fill="#c4d6ea"/>
<rect x="187.93" y="618.08" width="33.01" height="5.49" fill="#b8cde4"/>
<rect x="220.89" y="618.08" width="33.01" height="5.49" fill="#d8e7f2"/>
<rect x="253.85" y="618.08" width="33.01" height="5.49" fill="#abc4de"/>
<rect x="286.81" y="618.08" width="33.01" height="5.49" fill="#c4d6ea"/>
<rect x="319.77" y="618.08" width="33.01" height="5.49" fill="#eaf2ea"/>
<rect x="352.73" y="618.08" width="33.01" height="5.49" fill="#abc4de"/>
<rect x="385.68" y="618.08" width="33.01" height="5.49" fill="#abc4de"/>
<rect x="418.64" y="618.08" width="33.01" height="5.49" fill="#a9c2dc"/>
<rect x="56.1" y="623.52" width="33.01" height="5.49" fill="#a3bcd8"/>
<rect x="89.06" y="623.52" width="33.01" height="5.49" fill="#a9c2dc"/>
<rect x="122.02" y="623.52" width="33.01" height="5.49" fill="#abc4de"/>
<rect x="154.97" y="623.52" width="33.01" height="5.49" fill="#bed2e6"/>
<rect x="187.93" y="623.52" width="33.01" height="5.49" fill="#abc4de"/>
<rect x="220.89" y="623.52" width="33.01" height="5.49" fill="#bed2e6"/>
<rect x="253.85" y="623.52" width="33.01" height="5.49" fill="#abc4de"/>
<rect x="286.81" y="623.52" width="33.01" height="5.49" fill="#a9c2dc"/>
<rect x="319.77" y="623.52" width="33.01" height="5.49" fill="#b3c9e0"/>
<rect x="352.73" y="623.52" width="33.01" height="5.49" fill="#a9c2dc"/>
<rect x="385.68" y="623.52" width="33.01" height="5.49" fill="#bed2e6"/>
<rect x="418.64" y="623.52" width="33.01" height="5.49" fill="#dfecf2"/>
<rect x="56.1" y="628.96" width="33.01" height="5.49" fill="#a9c2dc"/>
<rect x="89.06" y="628.96" width="33.01" height="5.49" fill="#b3c9e0"/>
<rect x="122.02" y="628.96" width="33.01" height="5.49" fill="#bed2e6"/>
<rect x="154.97" y="628.96" width="33.01" height="5.49" fill="#c4d6ea"/>
<rect x="187.93" y="628.96" width="33.01" height="5.49" fill="#a9c2dc"/>
<rect x="220.89" y="628.96" width="33.01" height="5.49" fill="#c4d6ea"/>
<rect x="253.85" y="628.96" width="33.01" height="5.49" fill="#bed2e6"/>
<rect x="286.81" y="628.96" width="33.01" height="5.49" fill="#a9c2dc"/>
<rect x="319.77" y="628.96" width="33.01" height="5.49" fill="#c4d6ea"/>
<rect x="352.73" y="628.96" width="33.01" height="5.49" fill="#dfecf2"/>
<rect x="385.68" y="628.96" width="33.01" height="5.49" fill="#d8e7f2"/>
<rect x="418.64" y="628.96" width="33.01" height="5.49" fill="#d8e7f2"/>
<line x1="56.1" y1="351.5" x2="451.6" y2="351.5" class="gh"/>
<line x1="56.1" y1="356.94" x2="451.6" y2="356.94" class="gh"/>
<line x1="56.1" y1="362.38" x2="451.6" y2="362.38" class="gh"/>
<line x1="56.1" y1="367.82" x2="451.6" y2="367.82" class="gh"/>
<line x1="56.1" y1="373.26" x2="451.6" y2="373.26" class="gh"/>
<line x1="56.1" y1="378.7" x2="451.6" y2="378.7" class="gh"/>
<line x1="56.1" y1="384.14" x2="451.6" y2="384.14" class="gh"/>
<line x1="56.1" y1="389.58" x2="451.6" y2="389.58" class="gh"/>
<line x1="56.1" y1="395.02" x2="451.6" y2="395.02" class="gh"/>
<line x1="56.1" y1="400.46" x2="451.6" y2="400.46" class="gh"/>
<line x1="56.1" y1="405.9" x2="451.6" y2="405.9" class="gh"/>
<line x1="56.1" y1="411.34" x2="451.6" y2="411.34" class="gh"/>
<line x1="56.1" y1="416.78" x2="451.6" y2="416.78" class="gh"/>
<line x1="56.1" y1="422.23" x2="451.6" y2="422.23" class="gh"/>
<line x1="56.1" y1="427.67" x2="451.6" y2="427.67" class="gh"/>
<line x1="56.1" y1="433.11" x2="451.6" y2="433.11" class="gh"/>
<line x1="56.1" y1="438.55" x2="451.6" y2="438.55" class="gh"/>
<line x1="56.1" y1="443.99" x2="451.6" y2="443.99" class="gh"/>
<line x1="56.1" y1="449.43" x2="451.6" y2="449.43" class="gh"/>
<line x1="56.1" y1="454.87" x2="451.6" y2="454.87" class="gh"/>
<line x1="56.1" y1="460.31" x2="451.6" y2="460.31" class="gh"/>
<line x1="56.1" y1="465.75" x2="451.6" y2="465.75" class="gh"/>
<line x1="56.1" y1="471.19" x2="451.6" y2="471.19" class="gh"/>
<line x1="56.1" y1="476.63" x2="451.6" y2="476.63" class="gh"/>
<line x1="56.1" y1="482.07" x2="451.6" y2="482.07" class="gh"/>
<line x1="56.1" y1="487.51" x2="451.6" y2="487.51" class="gh"/>
<line x1="56.1" y1="492.95" x2="451.6" y2="492.95" class="gh"/>
<line x1="56.1" y1="498.39" x2="451.6" y2="498.39" class="gh"/>
<line x1="56.1" y1="503.83" x2="451.6" y2="503.83" class="gh"/>
<line x1="56.1" y1="509.27" x2="451.6" y2="509.27" class="gh"/>
<line x1="56.1" y1="514.71" x2="451.6" y2="514.71" class="gh"/>
<line x1="56.1" y1="520.15" x2="451.6" y2="520.15" class="gh"/>
<line x1="56.1" y1="525.59" x2="451.6" y2="525.59" class="gh"/>
<line x1="56.1" y1="531.03" x2="451.6" y2="531.03" class="gh"/>
<line x1="56.1" y1="536.47" x2="451.6" y2="536.47" class="gh"/>
<line x1="56.1" y1="541.91" x2="451.6" y2="541.91" class="gh"/>
<line x1="56.1" y1="547.35" x2="451.6" y2="547.35" class="gh"/>
<line x1="56.1" y1="552.79" x2="451.6" y2="552.79" class="gh"/>
<line x1="56.1" y1="558.23" x2="451.6" y2="558.23" class="gh"/>
<line x1="56.1" y1="563.67" x2="451.6" y2="563.67" class="gh"/>
<line x1="56.1" y1="569.12" x2="451.6" y2="569.12" class="gh"/>
<line x1="56.1" y1="574.56" x2="451.6" y2="574.56" class="gh"/>
<line x1="56.1" y1="580" x2="451.6" y2="580" class="gh"/>
<line x1="56.1" y1="585.44" x2="451.6" y2="585.44" class="gh"/>
<line x1="56.1" y1="590.88" x2="451.6" y2="590.88" class="gh"/>
<line x1="56.1" y1="596.32" x2="451.6" y2="596.32" class="gh"/>
<line x1="56.1" y1="601.76" x2="451.6" y2="601.76" class="gh"/>
<line x1="56.1" y1="607.2" x2="451.6" y2="607.2" class="gh"/>
<line x1="56.1" y1="612.64" x2="451.6" y2="612.64" class="gh"/>
<line x1="56.1" y1="618.08" x2="451.6" y2="618.08" class="gh"/>
<line x1="56.1" y1="623.52" x2="451.6" y2="623.52" class="gh"/>
<line x1="56.1" y1="628.96" x2="451.6" y2="628.96" class="gh"/>
<line x1="56.1" y1="634.4" x2="451.6" y2="634.4" class="gh"/>
<line x1="89.06" y1="351.5" x2="89.06" y2="634.4" class="gv"/>
<line x1="122.02" y1="351.5" x2="122.02" y2="634.4" class="gv"/>
<line x1="154.97" y1="351.5" x2="154.97" y2="634.4" class="gv"/>
<line x1="187.93" y1="351.5" x2="187.93" y2="634.4" class="gv"/>
<line x1="220.89" y1="351.5" x2="220.89" y2="634.4" class="gv"/>
<line x1="253.85" y1="351.5" x2="253.85" y2="634.4" class="gv"/>
<line x1="286.81" y1="351.5" x2="286.81" y2="634.4" class="gv"/>
<line x1="319.77" y1="351.5" x2="319.77" y2="634.4" class="gv"/>
<line x1="352.73" y1="351.5" x2="352.73" y2="634.4" class="gv"/>
<line x1="385.68" y1="351.5" x2="385.68" y2="634.4" class="gv"/>
<line x1="418.64" y1="351.5" x2="418.64" y2="634.4" class="gv"/>
<rect x="472.8" y="8.8" width="5.1" height="80.5" fill="url(#cbA)"/>
<rect x="484.2" y="351.5" width="5.7" height="84.7" fill="url(#cbB)"/>
<path class="d" d="M62.30 11.70L62.30 19.10M62.30 11.70L63.40 11.70M62.30 19.10L63.40 19.10M62.50 33.90L62.50 41.30M62.50 33.90L63.40 33.90M62.50 41.30L63.40 41.30M62.00 26.50L62.00 37.60M62.00 26.50L63.40 26.50M62.00 37.60L62.50 37.60M61.70 15.40L61.70 32.05M61.70 15.40L62.30 15.40M61.70 32.05L62.00 32.05M61.80 56.10L61.80 63.50M61.80 56.10L63.40 56.10M61.80 63.50L63.40 63.50M61.30 48.70L61.30 59.80M61.30 48.70L63.40 48.70M61.30 59.80L61.80 59.80M62.30 70.90L62.30 78.30M62.30 70.90L63.40 70.90M62.30 78.30L63.40 78.30M62.50 93.10L62.50 100.50M62.50 93.10L63.40 93.10M62.50 100.50L63.40 100.50M62.00 85.70L62.00 96.80M62.00 85.70L63.40 85.70M62.00 96.80L62.50 96.80M61.20 74.60L61.20 91.25M61.20 74.60L62.30 74.60M61.20 91.25L62.00 91.25M60.50 54.25L60.50 82.92M60.50 54.25L61.30 54.25M60.50 82.92L61.20 82.92M59.00 23.72L59.00 68.59M59.00 23.72L61.70 23.72M59.00 68.59L60.50 68.59M61.60 107.90L61.60 115.30M61.60 107.90L63.40 107.90M61.60 115.30L63.40 115.30M61.70 122.70L61.70 130.10M61.70 122.70L63.40 122.70M61.70 130.10L63.40 130.10M60.30 137.50L60.30 144.90M60.30 137.50L63.40 137.50M60.30 144.90L63.40 144.90M59.70 126.40L59.70 141.20M59.70 126.40L61.70 126.40M59.70 141.20L60.30 141.20M56.20 111.60L56.20 133.80M56.20 111.60L61.60 111.60M56.20 133.80L59.70 133.80M55.50 46.16L55.50 122.70M55.50 46.16L59.00 46.16M55.50 122.70L56.20 122.70M62.80 167.10L62.80 174.50M62.80 167.10L63.40 167.10M62.80 174.50L63.40 174.50M62.50 159.70L62.50 170.80M62.50 159.70L63.40 159.70M62.50 170.80L62.80 170.80M60.80 181.90L60.80 189.30M60.80 181.90L63.40 181.90M60.80 189.30L63.40 189.30M59.50 165.25L59.50 185.60M59.50 165.25L62.50 165.25M59.50 185.60L60.80 185.60M52.50 152.30L52.50 175.42M52.50 152.30L63.40 152.30M52.50 175.42L59.50 175.42M50.60 84.43L50.60 163.86M50.60 84.43L55.50 84.43M50.60 163.86L52.50 163.86M61.80 204.10L61.80 211.50M61.80 204.10L63.40 204.10M61.80 211.50L63.40 211.50M60.60 196.70L60.60 207.80M60.60 196.70L63.40 196.70M60.60 207.80L61.80 207.80M61.70 218.90L61.70 226.30M61.70 218.90L63.40 218.90M61.70 226.30L63.40 226.30M61.70 233.70L61.70 241.10M61.70 233.70L63.40 233.70M61.70 241.10L63.40 241.10M60.60 222.60L60.60 237.40M60.60 222.60L61.70 222.60M60.60 237.40L61.70 237.40M60.10 248.50L60.10 255.90M60.10 248.50L63.40 248.50M60.10 255.90L63.40 255.90M59.30 230.00L59.30 252.20M59.30 230.00L60.60 230.00M59.30 252.20L60.10 252.20M57.40 202.25L57.40 241.10M57.40 202.25L60.60 202.25M57.40 241.10L59.30 241.10M60.50 278.10L60.50 285.50M60.50 278.10L63.40 278.10M60.50 285.50L63.40 285.50M59.70 270.70L59.70 281.80M59.70 270.70L63.40 270.70M59.70 281.80L60.50 281.80M59.60 300.30L59.60 307.70M59.60 300.30L63.40 300.30M59.60 307.70L63.40 307.70M59.30 292.90L59.30 304.00M59.30 292.90L63.40 292.90M59.30 304.00L59.60 304.00M56.30 276.25L56.30 298.45M56.30 276.25L59.70 276.25M56.30 298.45L59.30 298.45M51.40 263.30L51.40 287.35M51.40 263.30L63.40 263.30M51.40 287.35L56.30 287.35M46.40 221.67L46.40 275.32M46.40 221.67L57.40 221.67M46.40 275.32L51.40 275.32M35.70 124.15L35.70 248.50M35.70 124.15L50.60 124.15M35.70 248.50L46.40 248.50"/>
<path class="d" d="M52.30 365.10L52.30 370.54M52.30 365.10L56.10 365.10M52.30 370.54L56.10 370.54M47.30 359.66L47.30 367.82M47.30 359.66L56.10 359.66M47.30 367.82L52.30 367.82M45.10 354.22L45.10 363.74M45.10 354.22L56.10 354.22M45.10 363.74L47.30 363.74M54.60 381.42L54.60 386.86M54.60 381.42L56.10 381.42M54.60 386.86L56.10 386.86M53.80 375.98L53.80 384.14M53.80 375.98L56.10 375.98M53.80 384.14L54.60 384.14M54.60 397.74L54.60 403.18M54.60 397.74L56.10 397.74M54.60 403.18L56.10 403.18M53.80 392.30L53.80 400.46M53.80 392.30L56.10 392.30M53.80 400.46L54.60 400.46M52.30 380.06L52.30 396.38M52.30 380.06L53.80 380.06M52.30 396.38L53.80 396.38M50.00 408.62L50.00 414.06M50.00 408.62L56.10 408.62M50.00 414.06L56.10 414.06M48.70 388.22L48.70 411.34M48.70 388.22L52.30 388.22M48.70 411.34L50.00 411.34M50.30 424.95L50.30 430.39M50.30 424.95L56.10 424.95M50.30 430.39L56.10 430.39M53.40 441.27L53.40 446.71M53.40 441.27L56.10 441.27M53.40 446.71L56.10 446.71M51.30 435.83L51.30 443.99M51.30 435.83L56.10 435.83M51.30 443.99L53.40 443.99M54.50 452.15L54.50 457.59M54.50 452.15L56.10 452.15M54.50 457.59L56.10 457.59M54.00 463.03L54.00 468.47M54.00 463.03L56.10 463.03M54.00 468.47L56.10 468.47M53.00 465.75L53.00 473.91M53.00 465.75L54.00 465.75M53.00 473.91L56.10 473.91M52.40 454.87L52.40 469.83M52.40 454.87L54.50 454.87M52.40 469.83L53.00 469.83M53.00 490.23L53.00 495.67M53.00 490.23L56.10 490.23M53.00 495.67L56.10 495.67M51.00 484.79L51.00 492.95M51.00 484.79L56.10 484.79M51.00 492.95L53.00 492.95M49.60 479.35L49.60 488.87M49.60 479.35L56.10 479.35M49.60 488.87L51.00 488.87M48.60 462.35L48.60 484.11M48.60 462.35L52.40 462.35M48.60 484.11L49.60 484.11M48.00 439.91L48.00 473.23M48.00 439.91L51.30 439.91M48.00 473.23L48.60 473.23M47.60 427.67L47.60 456.57M47.60 427.67L50.30 427.67M47.60 456.57L48.00 456.57M47.20 419.50L47.20 442.12M47.20 419.50L56.10 419.50M47.20 442.12L47.60 442.12M44.00 399.78L44.00 430.81M44.00 399.78L48.70 399.78M44.00 430.81L47.20 430.81M38.40 358.98L38.40 415.30M38.40 358.98L45.10 358.98M38.40 415.30L44.00 415.30M54.80 517.43L54.80 522.87M54.80 517.43L56.10 517.43M54.80 522.87L56.10 522.87M54.80 528.31L54.80 533.75M54.80 528.31L56.10 528.31M54.80 533.75L56.10 533.75M54.30 520.15L54.30 531.03M54.30 520.15L54.80 520.15M54.30 531.03L54.80 531.03M53.40 511.99L53.40 525.59M53.40 511.99L56.10 511.99M53.40 525.59L54.30 525.59M52.30 539.19L52.30 544.63M52.30 539.19L56.10 539.19M52.30 544.63L56.10 544.63M51.30 518.79L51.30 541.91M51.30 518.79L53.40 518.79M51.30 541.91L52.30 541.91M53.80 560.95L53.80 566.40M53.80 560.95L56.10 560.95M53.80 566.40L56.10 566.40M52.50 555.51L52.50 563.67M52.50 555.51L56.10 555.51M52.50 563.67L53.80 563.67M50.50 550.07L50.50 559.59M50.50 550.07L56.10 550.07M50.50 559.59L52.50 559.59M48.90 530.35L48.90 554.83M48.90 530.35L51.30 530.35M48.90 554.83L50.50 554.83M47.10 506.55L47.10 542.59M47.10 506.55L56.10 506.55M47.10 542.59L48.90 542.59M41.40 501.11L41.40 524.57M41.40 501.11L56.10 501.11M41.40 524.57L47.10 524.57M49.00 571.84L49.00 577.28M49.00 571.84L56.10 571.84M49.00 577.28L56.10 577.28M53.60 593.60L53.60 599.04M53.60 593.60L56.10 593.60M53.60 599.04L56.10 599.04M54.00 604.48L54.00 609.92M54.00 604.48L56.10 604.48M54.00 609.92L56.10 609.92M54.00 626.24L54.00 631.68M54.00 626.24L56.10 626.24M54.00 631.68L56.10 631.68M53.40 620.80L53.40 628.96M53.40 620.80L56.10 620.80M53.40 628.96L54.00 628.96M53.00 615.36L53.00 624.88M53.00 615.36L56.10 615.36M53.00 624.88L53.40 624.88M52.40 607.20L52.40 620.12M52.40 607.20L54.00 607.20M52.40 620.12L53.00 620.12M51.20 596.32L51.20 613.66M51.20 596.32L53.60 596.32M51.20 613.66L52.40 613.66M48.40 588.16L48.40 604.99M48.40 588.16L56.10 588.16M48.40 604.99L51.20 604.99M45.30 582.72L45.30 596.57M45.30 582.72L56.10 582.72M45.30 596.57L48.40 596.57M40.20 574.56L40.20 589.64M40.20 574.56L49.00 574.56M40.20 589.64L45.30 589.64M36.70 512.84L36.70 582.10M36.70 512.84L41.40 512.84M36.70 582.10L40.20 582.10M27.30 387.14L27.30 547.47M27.30 387.14L38.40 387.14M27.30 547.47L36.70 547.47"/>
<g font-size="6.4">
<text x="447" y="14.55">Sfpq</text>
<text x="447" y="21.93">Tpr</text>
<text x="447" y="29.3">Usp25</text>
<text x="447" y="36.68">Tbl1xr1</text>
<text x="447" y="44.05">Zeb2</text>
<text x="447" y="51.43">Rcsd1</text>
<text x="447" y="58.81">Myh9</text>
<text x="447" y="66.18">Nup214</text>
<text x="447" y="73.56">Ranbp2</text>
<text x="447" y="80.93">Pcm1</text>
<text x="447" y="88.31">Rfx3</text>
<text x="447" y="95.69">Atf7ip</text>
<text x="447" y="103.06">Foxp1</text>
<text x="447" y="110.44">Ebf1</text>
<text x="447" y="117.81">Pax5</text>
<text x="447" y="125.19">Cenpc1</text>
<text x="447" y="132.57">Mef2d</text>
<text x="447" y="139.94">Bcr</text>
<text x="447" y="147.32">Etv6</text>
<text x="447" y="154.69">Dntt</text>
<text x="447" y="162.07">Lsm14a</text>
<text x="447" y="169.45">Nup153</text>
<text x="447" y="176.82">Zc3hav1</text>
<text x="447" y="184.2">Myb</text>
<text x="447" y="191.57">Smarca4</text>
<text x="447" y="198.95">Pag1</text>
<text x="447" y="206.33">Terf2</text>
<text x="447" y="213.7" style="fill:#c0343a;stroke:#c0343a">Tyk2</text>
<text x="447" y="221.08">Ssbp2</text>
<text x="447" y="228.45">Zmiz1</text>
<text x="447" y="235.83">Ppfibp1</text>
<text x="447" y="243.21">Tnip1</text>
<text x="447" y="250.58" style="fill:#c0343a;stroke:#c0343a">Jak2</text>
<text x="447" y="257.96">Strn3</text>
<text x="447" y="265.33" style="fill:#c0343a;stroke:#c0343a">Il2rb</text>
<text x="447" y="272.71" style="fill:#c0343a;stroke:#c0343a">Pdgfrb</text>
<text x="447" y="280.09" style="fill:#c0343a;stroke:#c0343a">Abl1</text>
<text x="447" y="287.46" style="fill:#c0343a;stroke:#c0343a">Csf1r</text>
<text x="447" y="294.84" style="fill:#c0343a;stroke:#c0343a">Ntrk3</text>
<text x="447" y="302.21" style="fill:#c0343a;stroke:#c0343a">Abl2</text>
<text x="447" y="309.59" style="fill:#c0343a;stroke:#c0343a">Epor</text>
</g>
<g font-size="5.9">
<text x="452.8" y="356.32">MYB</text>
<text x="452.8" y="361.76" style="fill:#c0343a;stroke:#c0343a">FLT3</text>
<text x="452.8" y="367.2">ETV6</text>
<text x="452.8" y="372.64">SSBP2</text>
<text x="452.8" y="378.08">FOXP1</text>
<text x="452.8" y="383.52">LSM14A</text>
<text x="452.8" y="388.96">ZC3HAV1</text>
<text x="452.8" y="394.4">TBL1XR1</text>
<text x="452.8" y="399.84">ATF7IP</text>
<text x="452.8" y="405.28">TPR</text>
<text x="452.8" y="410.72">SFPQ</text>
<text x="452.8" y="416.16">ZMIZ1</text>
<text x="452.8" y="421.6">PAG1</text>
<text x="452.8" y="427.05">RCSD1</text>
<text x="452.8" y="432.49">SNX2</text>
<text x="452.8" y="437.93">RANBP2</text>
<text x="452.8" y="443.37">FIP1L1</text>
<text x="452.8" y="448.81">TYK2</text>
<text x="452.8" y="454.25">SMARCA4</text>
<text x="452.8" y="459.69">NUP153</text>
<text x="452.8" y="465.13">PCM1</text>
<text x="452.8" y="470.57">USP25</text>
<text x="452.8" y="476.01">ZNF274</text>
<text x="452.8" y="481.45">NUP214</text>
<text x="452.8" y="486.89">ZMYND8</text>
<text x="452.8" y="492.33">HMBOX1</text>
<text x="452.8" y="497.77">TNIP1</text>
<text x="452.8" y="503.21" style="fill:#c0343a;stroke:#c0343a">IL2RB</text>
<text x="452.8" y="508.65" style="fill:#c0343a;stroke:#c0343a">CSF1R</text>
<text x="452.8" y="514.09">BCR</text>
<text x="452.8" y="519.53">TERF2</text>
<text x="452.8" y="524.97">SMU1</text>
<text x="452.8" y="530.41" style="fill:#c0343a;stroke:#c0343a">ABL1</text>
<text x="452.8" y="535.85">GOLGA5</text>
<text x="452.8" y="541.29" style="fill:#c0343a;stroke:#c0343a">EPOR</text>
<text x="452.8" y="546.73">STRN3</text>
<text x="452.8" y="552.17">ZEB2</text>
<text x="452.8" y="557.61">SNX29</text>
<text x="452.8" y="563.05">MEF2D</text>
<text x="452.8" y="568.5">ZMYM2</text>
<text x="452.8" y="573.94">EBF1</text>
<text x="452.8" y="579.38">PAX5</text>
<text x="452.8" y="584.82" style="fill:#c0343a;stroke:#c0343a">NTRK3</text>
<text x="452.8" y="590.26">SPTAN1</text>
<text x="452.8" y="595.7" style="fill:#c0343a;stroke:#c0343a">JAK2</text>
<text x="452.8" y="601.14">ZBTB46</text>
<text x="452.8" y="606.58" style="fill:#c0343a;stroke:#c0343a">ABL2</text>
<text x="452.8" y="612.02" style="fill:#c0343a;stroke:#c0343a">PDGFRA</text>
<text x="452.8" y="617.46" style="fill:#c0343a;stroke:#c0343a">FGFR1</text>
<text x="452.8" y="622.9">PPFIBP1</text>
<text x="452.8" y="628.34" style="fill:#c0343a;stroke:#c0343a">PDGFRB</text>
<text x="452.8" y="633.78">RFX3</text>
</g>
<g font-size="8">
<text x="480.8" y="24.7">12</text>
<text x="480.8" y="39.099999999999994">10</text>
<text x="480.8" y="52.699999999999996">8</text>
<text x="480.8" y="66.39999999999999">6</text>
<text x="480.8" y="79.89999999999999">4</text>
<text x="490.1" y="51.6">log<tspan font-size="4.8" dy="2.0">2</tspan></text>
</g>
<g font-size="6.6">
<text x="492.2" y="368.1">12</text>
<text x="492.2" y="383.6">10</text>
<text x="492.2" y="399.2">8</text>
<text x="492.2" y="415">6</text>
<text x="492.2" y="431">4</text>
<text x="500.1" y="398.4">log<tspan font-size="4.4" dy="1.9">2</tspan></text>
</g>
<text x="9" y="16.8" font-size="11" font-weight="bold" style="fill:#000">A</text>
<text x="7.5" y="361.6" font-size="11" font-weight="bold" style="fill:#000">B</text>
<g font-size="8.35" text-anchor="middle">
<text class="ns" x="9.4" y="320.8" text-anchor="start" font-size="8.15">Hardy Fraction</text>
<text class="ns" x="92.5" y="320.6">CLP</text>
<text class="ns" x="147.1" y="320.6">A</text>
<text class="ns" x="147.1" y="331.2">pre-pro B</text>
<text class="ns" x="201.7" y="320.6">B</text>
<text class="ns" x="201.7" y="331.2">pro-B</text>
<text class="ns" x="256.3" y="320.6">C</text>
<text class="ns" x="256.3" y="331.2">large pre-B</text>
<text class="ns" x="310.9" y="320.6">D</text>
<text class="ns" x="310.9" y="331.2">small pre-B</text>
<text class="ns" x="365.5" y="320.6">E</text>
<text class="ns" x="365.5" y="331.2">Immature B</text>
<text class="ns" x="420.1" y="320.6">F</text>
<text class="ns" x="420.1" y="331.2">Mature B</text>
</g>
<g font-size="5.95" text-anchor="middle">
<text class="ns" x="73.28" y="640.9">HSC</text>
<text class="ns" x="106.24" y="640.9">HPC</text>
<text class="ns" x="139.2" y="640.9">CMP</text>
<text class="ns" x="172.15" y="640.9">GMP</text>
<text class="ns" x="205.11" y="640.9">MEP</text>
<text class="ns" x="238.07" y="640.9">Myeloid</text>
<text class="ns" x="271.03" y="640.9">Mono</text>
<text class="ns" x="303.99" y="640.9">Myeloid DC</text>
<text class="ns" x="336.95" y="640.9">B cells</text>
<text class="ns" x="369.9" y="640.9">CD4+ T</text>
<text class="ns" x="402.86" y="640.9">CD8+ T</text>
<text class="ns" x="435.82" y="640.9">NK cells</text>
</g>
<rect x="0" y="0" width="1.2" height="649" fill="#000"/>
<rect x="0" y="0" width="520" height="1.2" fill="#000"/>
<rect x="518" y="0" width="2" height="649" fill="#000"/>
<rect x="0" y="647" width="520" height="2" fill="#000"/>
</svg></body></html>
